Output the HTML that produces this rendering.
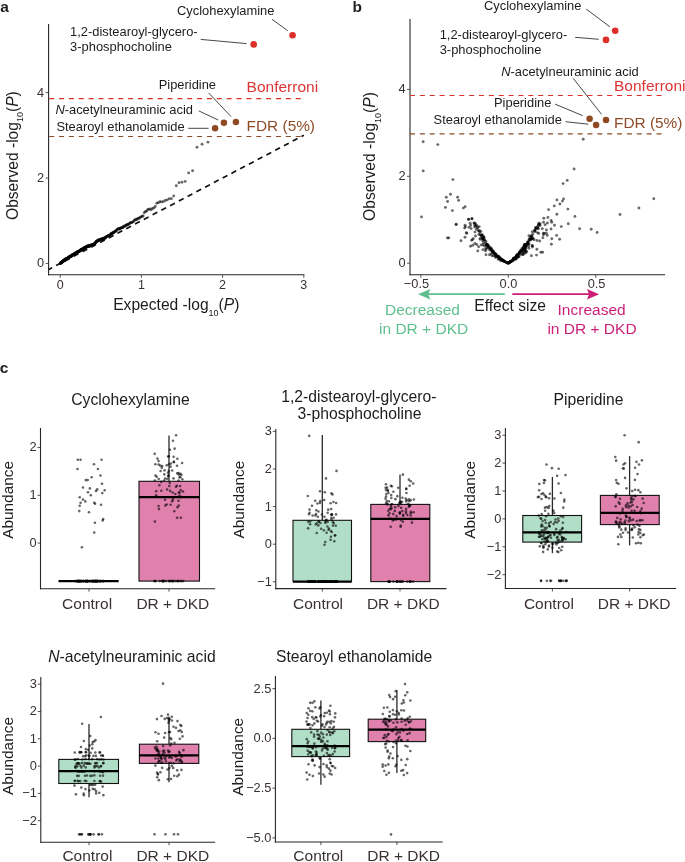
<!DOCTYPE html>
<html><head><meta charset="utf-8"><title>Figure</title>
<style>
html,body{margin:0;padding:0;background:#fff;}
svg{display:block;will-change:transform;}
text{font-family:"Liberation Sans",sans-serif;}
</style></head>
<body>
<svg width="685" height="862" viewBox="0 0 685 862">
<rect width="685" height="862" fill="#fff"/>
<text x="0.2" y="12.4" font-size="15.5" fill="#231f20" text-anchor="start" font-weight="bold">a</text>
<line x1="48.6" y1="24" x2="48.6" y2="275.3" stroke="#262626" stroke-width="1.1" stroke-linecap="butt"/>
<line x1="48.05" y1="274.7" x2="304.4" y2="274.7" stroke="#262626" stroke-width="1.1" stroke-linecap="butt"/>
<line x1="45.6" y1="263.4" x2="48.6" y2="263.4" stroke="#555" stroke-width="1" stroke-linecap="butt"/>
<text x="44.2" y="267.3" font-size="12.8" fill="#3a3131" text-anchor="end" >0</text>
<line x1="45.6" y1="178" x2="48.6" y2="178" stroke="#555" stroke-width="1" stroke-linecap="butt"/>
<text x="44.2" y="181.9" font-size="12.8" fill="#3a3131" text-anchor="end" >2</text>
<line x1="45.6" y1="92.6" x2="48.6" y2="92.6" stroke="#555" stroke-width="1" stroke-linecap="butt"/>
<text x="44.2" y="96.5" font-size="12.8" fill="#3a3131" text-anchor="end" >4</text>
<line x1="60.2" y1="274.7" x2="60.2" y2="277.8" stroke="#555" stroke-width="1" stroke-linecap="butt"/>
<text x="60.2" y="289.4" font-size="12.5" fill="#3a3131" text-anchor="middle" >0</text>
<line x1="141.4" y1="274.7" x2="141.4" y2="277.8" stroke="#555" stroke-width="1" stroke-linecap="butt"/>
<text x="141.4" y="289.4" font-size="12.5" fill="#3a3131" text-anchor="middle" >1</text>
<line x1="222.6" y1="274.7" x2="222.6" y2="277.8" stroke="#555" stroke-width="1" stroke-linecap="butt"/>
<text x="222.6" y="289.4" font-size="12.5" fill="#3a3131" text-anchor="middle" >2</text>
<line x1="303.8" y1="274.7" x2="303.8" y2="277.8" stroke="#555" stroke-width="1" stroke-linecap="butt"/>
<text x="303.8" y="289.4" font-size="12.5" fill="#3a3131" text-anchor="middle" >3</text>
<text x="176.3" y="310.3" font-size="15.6" fill="#1c1c1c" text-anchor="middle" >Expected -log<tspan font-size="9" dy="5.2">10</tspan><tspan dy="-5.2">(</tspan><tspan font-style="italic">P</tspan>)</text>
<text transform="translate(17.9,155.6) rotate(-90)" font-size="15.6" fill="#1c1c1c" text-anchor="middle">Observed -log<tspan font-size="9" dy="5.2">10</tspan><tspan dy="-5.2">(</tspan><tspan font-style="italic">P</tspan>)</text>
<line x1="49.2" y1="98.6" x2="301.5" y2="98.6" stroke="#dc2f2a" stroke-width="1.2" stroke-linecap="butt" stroke-dasharray="5 4.86"/>
<line x1="49.2" y1="136.5" x2="302" y2="136.5" stroke="#8e4b27" stroke-width="1.2" stroke-linecap="butt" stroke-dasharray="5 4.86"/>
<line x1="303.8" y1="135.3" x2="48.6" y2="269.55" stroke="#111" stroke-width="1.7" stroke-linecap="butt" stroke-dasharray="5.4 4.5" stroke-dashoffset="2.8"/>
<g fill="#000" fill-opacity="0.58"><circle cx="207.95" cy="142.13" r="1.45"/><circle cx="202.06" cy="144.27" r="1.45"/><circle cx="197.01" cy="147.26" r="1.45"/><circle cx="192.6" cy="170.74" r="1.45"/><circle cx="188.67" cy="172.88" r="1.45"/><circle cx="185.14" cy="181.42" r="1.45"/><circle cx="181.94" cy="182.27" r="1.45"/><circle cx="179" cy="182.7" r="1.45"/><circle cx="176.28" cy="185.69" r="1.45"/><circle cx="173.76" cy="195.93" r="1.45"/><circle cx="171.41" cy="198.65" r="1.45"/><circle cx="169.2" cy="198.82" r="1.45"/><circle cx="167.13" cy="199.91" r="1.45"/><circle cx="165.17" cy="200.54" r="1.45"/><circle cx="163.31" cy="201.62" r="1.45"/><circle cx="161.55" cy="201.89" r="1.45"/><circle cx="159.87" cy="201.76" r="1.45"/><circle cx="158.27" cy="202.8" r="1.45"/><circle cx="156.73" cy="203.21" r="1.45"/><circle cx="155.26" cy="206.52" r="1.45"/><circle cx="153.85" cy="207.9" r="1.45"/><circle cx="152.5" cy="208.43" r="1.45"/><circle cx="151.19" cy="209.84" r="1.45"/><circle cx="149.93" cy="208.83" r="1.45"/><circle cx="148.71" cy="209.39" r="1.45"/><circle cx="147.54" cy="209.75" r="1.45"/><circle cx="146.4" cy="211.26" r="1.45"/><circle cx="145.3" cy="211.61" r="1.45"/><circle cx="144.23" cy="212.8" r="1.45"/><circle cx="143.19" cy="215.99" r="1.45"/><circle cx="142.19" cy="216.16" r="1.45"/><circle cx="141.21" cy="216.91" r="1.45"/><circle cx="140.25" cy="217.16" r="1.45"/><circle cx="139.33" cy="218.28" r="1.45"/><circle cx="138.42" cy="218.32" r="1.45"/><circle cx="137.54" cy="218.78" r="1.45"/><circle cx="136.68" cy="219.8" r="1.45"/><circle cx="135.84" cy="219.11" r="1.45"/><circle cx="135.02" cy="220.15" r="1.45"/><circle cx="134.22" cy="220.3" r="1.45"/><circle cx="133.43" cy="221.62" r="1.45"/><circle cx="132.67" cy="222.11" r="1.45"/><circle cx="131.92" cy="222.35" r="1.45"/><circle cx="131.18" cy="222.63" r="1.45"/><circle cx="130.46" cy="222.66" r="1.45"/><circle cx="129.76" cy="223.22" r="1.45"/><circle cx="129.07" cy="223.91" r="1.45"/><circle cx="128.39" cy="224.5" r="1.45"/><circle cx="127.72" cy="224.65" r="1.45"/><circle cx="127.07" cy="224.21" r="1.45"/><circle cx="126.43" cy="225.47" r="1.45"/><circle cx="125.8" cy="225.33" r="1.45"/><circle cx="125.18" cy="225.58" r="1.45"/><circle cx="124.57" cy="226.75" r="1.45"/><circle cx="123.97" cy="226.38" r="1.45"/><circle cx="123.39" cy="226.13" r="1.45"/><circle cx="122.81" cy="227.86" r="1.45"/><circle cx="122.24" cy="227.42" r="1.45"/><circle cx="121.68" cy="227.61" r="1.45"/><circle cx="121.13" cy="228.19" r="1.45"/><circle cx="120.59" cy="227.91" r="1.45"/><circle cx="120.05" cy="228.42" r="1.45"/><circle cx="119.52" cy="229.27" r="1.45"/><circle cx="119.01" cy="228.57" r="1.45"/><circle cx="118.5" cy="228.9" r="1.45"/><circle cx="117.99" cy="229.04" r="1.45"/><circle cx="117.49" cy="229.09" r="1.45"/><circle cx="117" cy="229.83" r="1.45"/><circle cx="116.52" cy="230.26" r="1.45"/><circle cx="116.05" cy="231.16" r="1.45"/><circle cx="115.58" cy="230.7" r="1.45"/><circle cx="115.11" cy="231.5" r="1.45"/><circle cx="114.65" cy="231.75" r="1.45"/><circle cx="114.2" cy="232.37" r="1.45"/><circle cx="113.75" cy="232.55" r="1.45"/><circle cx="113.31" cy="232.68" r="1.45"/><circle cx="112.88" cy="232.25" r="1.45"/><circle cx="112.45" cy="233.84" r="1.45"/><circle cx="112.02" cy="233.9" r="1.45"/><circle cx="111.6" cy="233.53" r="1.45"/><circle cx="111.19" cy="233.34" r="1.45"/><circle cx="110.78" cy="233.95" r="1.45"/><circle cx="110.37" cy="235.16" r="1.45"/><circle cx="109.97" cy="235.66" r="1.45"/><circle cx="109.58" cy="234.83" r="1.45"/><circle cx="109.18" cy="235.51" r="1.45"/><circle cx="108.8" cy="235.91" r="1.45"/><circle cx="108.41" cy="235.38" r="1.45"/><circle cx="108.03" cy="235.58" r="1.45"/><circle cx="107.66" cy="236.18" r="1.45"/><circle cx="107.29" cy="236.4" r="1.45"/><circle cx="106.92" cy="236.57" r="1.45"/><circle cx="106.56" cy="236.39" r="1.45"/><circle cx="106.2" cy="236.99" r="1.45"/><circle cx="105.84" cy="237.26" r="1.45"/><circle cx="105.49" cy="237.49" r="1.45"/><circle cx="105.14" cy="238.48" r="1.45"/><circle cx="104.79" cy="237.62" r="1.45"/><circle cx="104.45" cy="237.86" r="1.45"/><circle cx="104.11" cy="238.14" r="1.45"/><circle cx="103.78" cy="239.15" r="1.45"/><circle cx="103.44" cy="238.8" r="1.45"/><circle cx="103.11" cy="238.4" r="1.45"/><circle cx="102.79" cy="239.45" r="1.45"/><circle cx="102.46" cy="239" r="1.45"/><circle cx="102.14" cy="238.7" r="1.45"/><circle cx="101.83" cy="239.62" r="1.45"/><circle cx="101.51" cy="238.73" r="1.45"/><circle cx="101.2" cy="239.21" r="1.45"/><circle cx="100.89" cy="239.57" r="1.45"/><circle cx="100.58" cy="239.52" r="1.45"/><circle cx="100.28" cy="239.52" r="1.45"/><circle cx="99.98" cy="239.81" r="1.45"/><circle cx="99.68" cy="239.57" r="1.45"/><circle cx="99.38" cy="240.29" r="1.45"/><circle cx="99.09" cy="240.32" r="1.45"/><circle cx="98.8" cy="239.94" r="1.45"/><circle cx="98.51" cy="240.38" r="1.45"/><circle cx="98.22" cy="240.79" r="1.45"/><circle cx="97.94" cy="240.29" r="1.45"/><circle cx="97.65" cy="240.22" r="1.45"/><circle cx="97.37" cy="240.95" r="1.45"/><circle cx="97.1" cy="241.36" r="1.45"/><circle cx="96.82" cy="241.12" r="1.45"/><circle cx="96.55" cy="241.45" r="1.45"/><circle cx="96.28" cy="241.81" r="1.45"/><circle cx="96.01" cy="241.58" r="1.45"/><circle cx="95.74" cy="242.68" r="1.45"/><circle cx="95.48" cy="242.26" r="1.45"/><circle cx="95.21" cy="243.37" r="1.45"/><circle cx="94.95" cy="243.53" r="1.45"/><circle cx="94.69" cy="243.38" r="1.45"/><circle cx="94.43" cy="243.53" r="1.45"/><circle cx="94.18" cy="243.92" r="1.45"/><circle cx="93.92" cy="244.38" r="1.45"/><circle cx="93.67" cy="244.61" r="1.45"/><circle cx="93.42" cy="244.68" r="1.45"/><circle cx="93.17" cy="244.62" r="1.45"/><circle cx="92.93" cy="244.92" r="1.45"/><circle cx="92.68" cy="244.85" r="1.45"/><circle cx="92.44" cy="244.84" r="1.45"/><circle cx="92.2" cy="245.08" r="1.45"/><circle cx="91.96" cy="244.92" r="1.45"/><circle cx="91.72" cy="245.05" r="1.45"/><circle cx="91.48" cy="244.68" r="1.45"/><circle cx="91.25" cy="245.26" r="1.45"/><circle cx="91.01" cy="245.55" r="1.45"/><circle cx="90.78" cy="245.6" r="1.45"/><circle cx="90.55" cy="245.56" r="1.45"/><circle cx="90.32" cy="245.35" r="1.45"/><circle cx="90.1" cy="245.79" r="1.45"/><circle cx="89.87" cy="245.64" r="1.45"/><circle cx="89.65" cy="245.28" r="1.45"/><circle cx="89.42" cy="246.64" r="1.45"/><circle cx="89.2" cy="246.28" r="1.45"/><circle cx="88.98" cy="245.94" r="1.45"/><circle cx="88.76" cy="245.96" r="1.45"/><circle cx="88.54" cy="246.07" r="1.45"/><circle cx="88.33" cy="246.33" r="1.45"/><circle cx="88.11" cy="246.07" r="1.45"/><circle cx="87.9" cy="246.24" r="1.45"/><circle cx="87.69" cy="246.54" r="1.45"/><circle cx="87.47" cy="245.75" r="1.45"/><circle cx="87.26" cy="246.41" r="1.45"/><circle cx="87.06" cy="246.73" r="1.45"/><circle cx="86.85" cy="246.66" r="1.45"/><circle cx="86.64" cy="246.75" r="1.45"/><circle cx="86.44" cy="246.81" r="1.45"/><circle cx="86.23" cy="247.68" r="1.45"/><circle cx="86.03" cy="247.18" r="1.45"/><circle cx="85.83" cy="246.88" r="1.45"/><circle cx="85.63" cy="247.61" r="1.45"/><circle cx="85.43" cy="247.42" r="1.45"/><circle cx="85.23" cy="247.26" r="1.45"/><circle cx="85.03" cy="247.4" r="1.45"/><circle cx="84.84" cy="247.35" r="1.45"/><circle cx="84.64" cy="248.34" r="1.45"/><circle cx="84.45" cy="248.09" r="1.45"/><circle cx="84.26" cy="248.2" r="1.45"/><circle cx="84.07" cy="248.05" r="1.45"/><circle cx="83.87" cy="248.04" r="1.45"/><circle cx="83.69" cy="249.18" r="1.45"/><circle cx="83.5" cy="248.27" r="1.45"/><circle cx="83.31" cy="249.07" r="1.45"/><circle cx="83.12" cy="248.61" r="1.45"/><circle cx="82.94" cy="249.3" r="1.45"/><circle cx="82.75" cy="248.97" r="1.45"/><circle cx="82.57" cy="248.81" r="1.45"/><circle cx="82.39" cy="249.27" r="1.45"/><circle cx="82.2" cy="249.29" r="1.45"/><circle cx="82.02" cy="249.24" r="1.45"/><circle cx="81.84" cy="249.52" r="1.45"/><circle cx="81.66" cy="249.69" r="1.45"/><circle cx="81.49" cy="249.38" r="1.45"/><circle cx="81.31" cy="249.61" r="1.45"/><circle cx="81.13" cy="250.06" r="1.45"/><circle cx="80.96" cy="249.38" r="1.45"/><circle cx="80.78" cy="250.49" r="1.45"/><circle cx="80.61" cy="250.07" r="1.45"/><circle cx="80.44" cy="250.47" r="1.45"/><circle cx="80.26" cy="250.48" r="1.45"/><circle cx="80.09" cy="250.43" r="1.45"/><circle cx="79.92" cy="250.66" r="1.45"/><circle cx="79.75" cy="250.66" r="1.45"/><circle cx="79.58" cy="251.3" r="1.45"/><circle cx="79.42" cy="251.4" r="1.45"/><circle cx="79.25" cy="250.97" r="1.45"/><circle cx="79.08" cy="251.46" r="1.45"/><circle cx="78.92" cy="251.58" r="1.45"/><circle cx="78.75" cy="251.79" r="1.45"/><circle cx="78.59" cy="251.2" r="1.45"/><circle cx="78.43" cy="251.43" r="1.45"/><circle cx="78.26" cy="251.35" r="1.45"/><circle cx="78.1" cy="252.04" r="1.45"/><circle cx="77.94" cy="251.91" r="1.45"/><circle cx="77.78" cy="252.28" r="1.45"/><circle cx="77.62" cy="251.91" r="1.45"/><circle cx="77.46" cy="251.81" r="1.45"/><circle cx="77.3" cy="252.51" r="1.45"/><circle cx="77.15" cy="252.01" r="1.45"/><circle cx="76.99" cy="252.24" r="1.45"/><circle cx="76.83" cy="252.62" r="1.45"/><circle cx="76.68" cy="253.14" r="1.45"/><circle cx="76.52" cy="252.42" r="1.45"/><circle cx="76.37" cy="252.88" r="1.45"/><circle cx="76.22" cy="253.09" r="1.45"/><circle cx="76.06" cy="252.94" r="1.45"/><circle cx="75.91" cy="253.03" r="1.45"/><circle cx="75.76" cy="252.86" r="1.45"/><circle cx="75.61" cy="253.55" r="1.45"/><circle cx="75.46" cy="253.13" r="1.45"/><circle cx="75.31" cy="253.14" r="1.45"/><circle cx="75.16" cy="253.23" r="1.45"/><circle cx="75.01" cy="253.7" r="1.45"/><circle cx="74.86" cy="253.92" r="1.45"/><circle cx="74.72" cy="253.6" r="1.45"/><circle cx="74.57" cy="253.9" r="1.45"/><circle cx="74.43" cy="253.98" r="1.45"/><circle cx="74.28" cy="253.77" r="1.45"/><circle cx="74.14" cy="254.25" r="1.45"/><circle cx="73.99" cy="254.8" r="1.45"/><circle cx="73.85" cy="254.45" r="1.45"/><circle cx="73.71" cy="254.86" r="1.45"/><circle cx="73.56" cy="254.34" r="1.45"/><circle cx="73.42" cy="254.54" r="1.45"/><circle cx="73.28" cy="254.83" r="1.45"/><circle cx="73.14" cy="254.78" r="1.45"/><circle cx="73" cy="254.68" r="1.45"/><circle cx="72.86" cy="254.93" r="1.45"/><circle cx="72.72" cy="254.73" r="1.45"/><circle cx="72.58" cy="255.13" r="1.45"/><circle cx="72.45" cy="254.96" r="1.45"/><circle cx="72.31" cy="254.94" r="1.45"/><circle cx="72.17" cy="255" r="1.45"/><circle cx="72.04" cy="255.59" r="1.45"/><circle cx="71.9" cy="255.33" r="1.45"/><circle cx="71.77" cy="256.01" r="1.45"/><circle cx="71.63" cy="255.92" r="1.45"/><circle cx="71.5" cy="256.19" r="1.45"/><circle cx="71.36" cy="255.61" r="1.45"/><circle cx="71.23" cy="256.19" r="1.45"/><circle cx="71.1" cy="256" r="1.45"/><circle cx="70.97" cy="256.12" r="1.45"/><circle cx="70.83" cy="256.16" r="1.45"/><circle cx="70.7" cy="256.36" r="1.45"/><circle cx="70.57" cy="256.26" r="1.45"/><circle cx="70.44" cy="256.01" r="1.45"/><circle cx="70.31" cy="256.46" r="1.45"/><circle cx="70.18" cy="256.43" r="1.45"/><circle cx="70.05" cy="256.41" r="1.45"/><circle cx="69.93" cy="256.74" r="1.45"/><circle cx="69.8" cy="257.04" r="1.45"/><circle cx="69.67" cy="256.97" r="1.45"/><circle cx="69.54" cy="256.7" r="1.45"/><circle cx="69.42" cy="257.35" r="1.45"/><circle cx="69.29" cy="257.2" r="1.45"/><circle cx="69.17" cy="256.94" r="1.45"/><circle cx="69.04" cy="257.06" r="1.45"/><circle cx="68.92" cy="257.3" r="1.45"/><circle cx="68.79" cy="257.21" r="1.45"/><circle cx="68.67" cy="257.41" r="1.45"/><circle cx="68.55" cy="257.76" r="1.45"/><circle cx="68.42" cy="257.92" r="1.45"/><circle cx="68.3" cy="257.8" r="1.45"/><circle cx="68.18" cy="257.55" r="1.45"/><circle cx="68.06" cy="257.93" r="1.45"/><circle cx="67.94" cy="258.07" r="1.45"/><circle cx="67.81" cy="258.11" r="1.45"/><circle cx="67.69" cy="258.34" r="1.45"/><circle cx="67.57" cy="258.12" r="1.45"/><circle cx="67.46" cy="258.41" r="1.45"/><circle cx="67.34" cy="258.17" r="1.45"/><circle cx="67.22" cy="258.79" r="1.45"/><circle cx="67.1" cy="258.32" r="1.45"/><circle cx="66.98" cy="258.58" r="1.45"/><circle cx="66.86" cy="258.91" r="1.45"/><circle cx="66.75" cy="258.45" r="1.45"/><circle cx="66.63" cy="258.72" r="1.45"/><circle cx="66.51" cy="259.17" r="1.45"/><circle cx="66.4" cy="258.98" r="1.45"/><circle cx="66.28" cy="258.82" r="1.45"/><circle cx="66.17" cy="259.04" r="1.45"/><circle cx="66.05" cy="258.88" r="1.45"/><circle cx="65.94" cy="258.97" r="1.45"/><circle cx="65.82" cy="259.07" r="1.45"/><circle cx="65.71" cy="259.23" r="1.45"/><circle cx="65.6" cy="259.12" r="1.45"/><circle cx="65.48" cy="259.33" r="1.45"/><circle cx="65.37" cy="259.46" r="1.45"/><circle cx="65.26" cy="260.03" r="1.45"/><circle cx="65.15" cy="259.54" r="1.45"/><circle cx="65.03" cy="259.54" r="1.45"/><circle cx="64.92" cy="259.93" r="1.45"/><circle cx="64.81" cy="260.05" r="1.45"/><circle cx="64.7" cy="259.67" r="1.45"/><circle cx="64.59" cy="260.46" r="1.45"/><circle cx="64.48" cy="260.12" r="1.45"/><circle cx="64.37" cy="259.83" r="1.45"/><circle cx="64.26" cy="260.54" r="1.45"/><circle cx="64.15" cy="260.32" r="1.45"/><circle cx="64.05" cy="260.18" r="1.45"/><circle cx="63.94" cy="260.63" r="1.45"/><circle cx="63.83" cy="260.59" r="1.45"/><circle cx="63.72" cy="260.6" r="1.45"/><circle cx="63.61" cy="261.02" r="1.45"/><circle cx="63.51" cy="260.95" r="1.45"/><circle cx="63.4" cy="260.96" r="1.45"/><circle cx="63.29" cy="260.94" r="1.45"/><circle cx="63.19" cy="261.18" r="1.45"/><circle cx="63.08" cy="261.28" r="1.45"/><circle cx="62.98" cy="261.51" r="1.45"/><circle cx="62.87" cy="261.47" r="1.45"/><circle cx="62.77" cy="261.32" r="1.45"/><circle cx="62.66" cy="261.54" r="1.45"/><circle cx="62.56" cy="261.79" r="1.45"/><circle cx="62.46" cy="261.87" r="1.45"/><circle cx="62.35" cy="261.31" r="1.45"/><circle cx="62.25" cy="261.67" r="1.45"/><circle cx="62.15" cy="261.83" r="1.45"/><circle cx="62.04" cy="262.49" r="1.45"/><circle cx="61.94" cy="261.99" r="1.45"/><circle cx="61.84" cy="262.09" r="1.45"/><circle cx="61.74" cy="261.95" r="1.45"/><circle cx="61.64" cy="262.25" r="1.45"/><circle cx="61.54" cy="262.41" r="1.45"/><circle cx="61.44" cy="262.39" r="1.45"/><circle cx="61.34" cy="262.89" r="1.45"/><circle cx="61.24" cy="262.45" r="1.45"/><circle cx="61.14" cy="262.65" r="1.45"/><circle cx="61.04" cy="262.9" r="1.45"/><circle cx="60.94" cy="262.62" r="1.45"/><circle cx="60.84" cy="262.61" r="1.45"/><circle cx="60.74" cy="263.24" r="1.45"/><circle cx="60.64" cy="263.19" r="1.45"/><circle cx="60.54" cy="263.09" r="1.45"/><circle cx="60.44" cy="263.19" r="1.45"/><circle cx="60.35" cy="263.36" r="1.45"/><circle cx="60.25" cy="263.53" r="1.45"/></g>
<circle cx="292.55" cy="35.3" r="3.3" fill="#dc2f2a"/>
<circle cx="253.7" cy="44.4" r="3.3" fill="#dc2f2a"/>
<circle cx="235.9" cy="121.9" r="3.25" fill="#8f4a24"/>
<circle cx="223.9" cy="122.8" r="3.25" fill="#8f4a24"/>
<circle cx="215.1" cy="128.3" r="3.25" fill="#8f4a24"/>
<line x1="272" y1="19.3" x2="287.7" y2="30.7" stroke="#333" stroke-width="0.9" stroke-linecap="butt"/>
<line x1="200.7" y1="39.4" x2="246.5" y2="43.6" stroke="#333" stroke-width="0.9" stroke-linecap="butt"/>
<line x1="208.6" y1="92.9" x2="231.1" y2="116.6" stroke="#333" stroke-width="0.9" stroke-linecap="butt"/>
<line x1="198.8" y1="110.9" x2="218.2" y2="120" stroke="#333" stroke-width="0.9" stroke-linecap="butt"/>
<line x1="188.2" y1="128.3" x2="208.6" y2="128.3" stroke="#333" stroke-width="0.9" stroke-linecap="butt"/>
<text x="177" y="15.3" font-size="12.9" fill="#1c1c1c" text-anchor="start" >Cyclohexylamine</text>
<text x="70.1" y="36.4" font-size="12.9" fill="#1c1c1c" text-anchor="start" >1,2-distearoyl-glycero-</text>
<text x="70.1" y="50.6" font-size="12.9" fill="#1c1c1c" text-anchor="start" >3-phosphocholine</text>
<text x="158.7" y="89.2" font-size="12.9" fill="#1c1c1c" text-anchor="start" >Piperidine</text>
<text x="55.4" y="114.4" font-size="12.9" fill="#1c1c1c" text-anchor="start" ><tspan font-style="italic">N</tspan>-acetylneuraminic acid</text>
<text x="56.4" y="131.2" font-size="12.9" fill="#1c1c1c" text-anchor="start" >Stearoyl ethanolamide</text>
<text x="246.6" y="92.4" font-size="15.5" fill="#dc3434" text-anchor="start" >Bonferroni</text>
<text x="246.6" y="130.6" font-size="15.4" fill="#8e4b27" text-anchor="start" >FDR (5%)</text>
<text x="352.6" y="11.9" font-size="15.5" fill="#231f20" text-anchor="start" font-weight="bold">b</text>
<line x1="410" y1="19" x2="410" y2="275.3" stroke="#262626" stroke-width="1.1" stroke-linecap="butt"/>
<line x1="409.45" y1="274.7" x2="665" y2="274.7" stroke="#262626" stroke-width="1.1" stroke-linecap="butt"/>
<line x1="407" y1="263.2" x2="410" y2="263.2" stroke="#555" stroke-width="1" stroke-linecap="butt"/>
<text x="405.6" y="267.1" font-size="12.8" fill="#3a3131" text-anchor="end" >0</text>
<line x1="407" y1="176.3" x2="410" y2="176.3" stroke="#555" stroke-width="1" stroke-linecap="butt"/>
<text x="405.6" y="180.2" font-size="12.8" fill="#3a3131" text-anchor="end" >2</text>
<line x1="407" y1="89.4" x2="410" y2="89.4" stroke="#555" stroke-width="1" stroke-linecap="butt"/>
<text x="405.6" y="93.3" font-size="12.8" fill="#3a3131" text-anchor="end" >4</text>
<line x1="420.8" y1="274.7" x2="420.8" y2="277.8" stroke="#555" stroke-width="1" stroke-linecap="butt"/>
<text x="416.5" y="288.2" font-size="12.8" fill="#3a3131" text-anchor="middle" >−0.5</text>
<line x1="508.3" y1="274.7" x2="508.3" y2="277.8" stroke="#555" stroke-width="1" stroke-linecap="butt"/>
<text x="508.5" y="288.2" font-size="12.8" fill="#3a3131" text-anchor="middle" >0.0</text>
<line x1="595.8" y1="274.7" x2="595.8" y2="277.8" stroke="#555" stroke-width="1" stroke-linecap="butt"/>
<text x="596.6" y="288.2" font-size="12.8" fill="#3a3131" text-anchor="middle" >0.5</text>
<text transform="translate(375.4,156.5) rotate(-90)" font-size="15.6" fill="#1c1c1c" text-anchor="middle">Observed -log<tspan font-size="9" dy="5.2">10</tspan><tspan dy="-5.2">(</tspan><tspan font-style="italic">P</tspan>)</text>
<text x="510.1" y="310.8" font-size="15.6" fill="#1c1c1c" text-anchor="middle" >Effect size</text>
<line x1="504.8" y1="294.2" x2="426" y2="294.2" stroke="#5ebf8f" stroke-width="1.8" stroke-linecap="butt"/>
<path d="M418.1 294.2 L430.4 289 L428.2 294.2 L430.4 299.4 Z" fill="#5ebf8f"/>
<line x1="512.3" y1="294.2" x2="590" y2="294.2" stroke="#cc1f77" stroke-width="1.8" stroke-linecap="butt"/>
<path d="M599.2 294.2 L586.9 289 L589.1 294.2 L586.9 299.4 Z" fill="#cc1f77"/>
<text x="422.5" y="315.2" font-size="15.5" fill="#5ebf8f" text-anchor="middle" >Decreased</text>
<text x="423.6" y="333.8" font-size="15.5" fill="#5ebf8f" text-anchor="middle" >in DR + DKD</text>
<text x="591.6" y="315.1" font-size="15.5" fill="#cc1f77" text-anchor="middle" >Increased</text>
<text x="592" y="333.8" font-size="15.5" fill="#cc1f77" text-anchor="middle" >in DR + DKD</text>
<line x1="410" y1="95.5" x2="662" y2="95.5" stroke="#dc2f2a" stroke-width="1.2" stroke-linecap="butt" stroke-dasharray="5 4.86"/>
<line x1="410" y1="133.8" x2="662" y2="133.8" stroke="#8e4b27" stroke-width="1.2" stroke-linecap="butt" stroke-dasharray="5 4.86"/>
<g fill="#000" fill-opacity="0.58"><circle cx="423.2" cy="141.7" r="1.45"/><circle cx="437.8" cy="144.6" r="1.45"/><circle cx="583.2" cy="139.3" r="1.45"/><circle cx="423.2" cy="170.9" r="1.45"/><circle cx="574.1" cy="169" r="1.45"/><circle cx="452.9" cy="179.6" r="1.45"/><circle cx="567.2" cy="180.4" r="1.45"/><circle cx="563.1" cy="183.6" r="1.45"/><circle cx="450.5" cy="194.2" r="1.45"/><circle cx="446.3" cy="197.2" r="1.45"/><circle cx="457.6" cy="197.2" r="1.45"/><circle cx="447.6" cy="201.5" r="1.45"/><circle cx="458.6" cy="200.4" r="1.45"/><circle cx="445.4" cy="207.4" r="1.45"/><circle cx="452.4" cy="210.6" r="1.45"/><circle cx="463.4" cy="208.1" r="1.45"/><circle cx="465.1" cy="206.6" r="1.45"/><circle cx="421.5" cy="216.9" r="1.45"/><circle cx="456.1" cy="224.6" r="1.45"/><circle cx="468.5" cy="219.3" r="1.45"/><circle cx="471.9" cy="218.8" r="1.45"/><circle cx="563.5" cy="198.9" r="1.45"/><circle cx="562.5" cy="201.1" r="1.45"/><circle cx="556.9" cy="199.9" r="1.45"/><circle cx="559.9" cy="204" r="1.45"/><circle cx="554.3" cy="205.9" r="1.45"/><circle cx="548.6" cy="209.6" r="1.45"/><circle cx="567.9" cy="209.1" r="1.45"/><circle cx="556.9" cy="214.2" r="1.45"/><circle cx="574.9" cy="216.4" r="1.45"/><circle cx="547.9" cy="217.4" r="1.45"/><circle cx="543.8" cy="218.3" r="1.45"/><circle cx="551.1" cy="220.5" r="1.45"/><circle cx="543.5" cy="222.3" r="1.45"/><circle cx="547.4" cy="223" r="1.45"/><circle cx="554.5" cy="225.2" r="1.45"/><circle cx="561.3" cy="226.6" r="1.45"/><circle cx="568.3" cy="223.7" r="1.45"/><circle cx="579.6" cy="228.8" r="1.45"/><circle cx="591.2" cy="229.3" r="1.45"/><circle cx="597.1" cy="232.5" r="1.45"/><circle cx="540.1" cy="225.6" r="1.45"/><circle cx="538.2" cy="228.8" r="1.45"/><circle cx="542.3" cy="228.8" r="1.45"/><circle cx="546.4" cy="230" r="1.45"/><circle cx="538.7" cy="233.5" r="1.45"/><circle cx="544.2" cy="233.5" r="1.45"/><circle cx="547.2" cy="235.4" r="1.45"/><circle cx="556.6" cy="235.4" r="1.45"/><circle cx="551.8" cy="238.8" r="1.45"/><circle cx="559.6" cy="239.3" r="1.45"/><circle cx="551.4" cy="244.2" r="1.45"/><circle cx="536.9" cy="249.3" r="1.45"/><circle cx="540.9" cy="252.2" r="1.45"/><circle cx="542.6" cy="252.2" r="1.45"/><circle cx="531.4" cy="255.8" r="1.45"/><circle cx="536.5" cy="255.1" r="1.45"/><circle cx="620" cy="214.5" r="1.45"/><circle cx="638.9" cy="208" r="1.45"/><circle cx="653.8" cy="198.7" r="1.45"/><circle cx="456.2" cy="224.2" r="1.45"/><circle cx="465" cy="225.3" r="1.45"/><circle cx="465.4" cy="226.8" r="1.45"/><circle cx="468.7" cy="219.4" r="1.45"/><circle cx="472" cy="218.8" r="1.45"/><circle cx="470.2" cy="223.3" r="1.45"/><circle cx="470.6" cy="225.5" r="1.45"/><circle cx="471.1" cy="228.6" r="1.45"/><circle cx="474.9" cy="223.3" r="1.45"/><circle cx="476.6" cy="225.3" r="1.45"/><circle cx="477.7" cy="228.1" r="1.45"/><circle cx="479.4" cy="230.8" r="1.45"/><circle cx="475" cy="232.1" r="1.45"/><circle cx="475.5" cy="236" r="1.45"/><circle cx="473.3" cy="238.6" r="1.45"/><circle cx="447.4" cy="237.9" r="1.45"/><circle cx="448.8" cy="237.9" r="1.45"/><circle cx="465" cy="237.3" r="1.45"/><circle cx="461" cy="240.8" r="1.45"/><circle cx="470.6" cy="246.3" r="1.45"/><circle cx="472.8" cy="245.2" r="1.45"/><circle cx="474.9" cy="243.5" r="1.45"/><circle cx="477.8" cy="250.9" r="1.45"/><circle cx="485.5" cy="250.9" r="1.45"/><circle cx="486" cy="254.8" r="1.45"/><circle cx="489.5" cy="254.8" r="1.45"/><circle cx="551.76" cy="222.31" r="1.45"/><circle cx="473.93" cy="223.01" r="1.45"/><circle cx="475.11" cy="223.62" r="1.45"/><circle cx="540.14" cy="223.77" r="1.45"/><circle cx="538.75" cy="223.32" r="1.45"/><circle cx="538.86" cy="224.6" r="1.45"/><circle cx="539.1" cy="224.46" r="1.45"/><circle cx="545.09" cy="224.71" r="1.45"/><circle cx="475.98" cy="225.9" r="1.45"/><circle cx="538.34" cy="225.53" r="1.45"/><circle cx="474.78" cy="225.27" r="1.45"/><circle cx="474.71" cy="227.04" r="1.45"/><circle cx="479.2" cy="226.59" r="1.45"/><circle cx="537.5" cy="226.78" r="1.45"/><circle cx="468.92" cy="227.37" r="1.45"/><circle cx="477.48" cy="227.08" r="1.45"/><circle cx="535.85" cy="227.6" r="1.45"/><circle cx="536.4" cy="228.47" r="1.45"/><circle cx="535.77" cy="227.76" r="1.45"/><circle cx="464.57" cy="228.1" r="1.45"/><circle cx="536.17" cy="228.24" r="1.45"/><circle cx="538.07" cy="228.29" r="1.45"/><circle cx="551.08" cy="229.04" r="1.45"/><circle cx="476.42" cy="229.48" r="1.45"/><circle cx="535.11" cy="230.39" r="1.45"/><circle cx="534.71" cy="229.92" r="1.45"/><circle cx="478.42" cy="230.74" r="1.45"/><circle cx="534.69" cy="230.99" r="1.45"/><circle cx="534.86" cy="231.63" r="1.45"/><circle cx="532.38" cy="231.81" r="1.45"/><circle cx="479.52" cy="231.94" r="1.45"/><circle cx="480.8" cy="231.51" r="1.45"/><circle cx="543.47" cy="233.12" r="1.45"/><circle cx="546.39" cy="233.18" r="1.45"/><circle cx="466.3" cy="232.8" r="1.45"/><circle cx="537.35" cy="232.61" r="1.45"/><circle cx="466.77" cy="233.23" r="1.45"/><circle cx="478.9" cy="234.47" r="1.45"/><circle cx="482.14" cy="234.98" r="1.45"/><circle cx="532.76" cy="234.13" r="1.45"/><circle cx="480.25" cy="234.82" r="1.45"/><circle cx="481.66" cy="235.22" r="1.45"/><circle cx="543.37" cy="234.68" r="1.45"/><circle cx="482.24" cy="234.89" r="1.45"/><circle cx="481.25" cy="235.51" r="1.45"/><circle cx="531.24" cy="235.72" r="1.45"/><circle cx="481.63" cy="235.9" r="1.45"/><circle cx="528.91" cy="235.72" r="1.45"/><circle cx="531.94" cy="236.32" r="1.45"/><circle cx="483.65" cy="236.6" r="1.45"/><circle cx="531.41" cy="236.83" r="1.45"/><circle cx="483.69" cy="237.84" r="1.45"/><circle cx="530.53" cy="236.97" r="1.45"/><circle cx="483.97" cy="237.21" r="1.45"/><circle cx="483.01" cy="237.5" r="1.45"/><circle cx="482.89" cy="238.53" r="1.45"/><circle cx="480.55" cy="238.17" r="1.45"/><circle cx="542.92" cy="237.76" r="1.45"/><circle cx="530.82" cy="238.83" r="1.45"/><circle cx="533.05" cy="238.37" r="1.45"/><circle cx="531.23" cy="238.07" r="1.45"/><circle cx="483.53" cy="239.01" r="1.45"/><circle cx="482.44" cy="238.1" r="1.45"/><circle cx="532.65" cy="238.59" r="1.45"/><circle cx="529.2" cy="238.95" r="1.45"/><circle cx="530.4" cy="238.9" r="1.45"/><circle cx="531.88" cy="238.9" r="1.45"/><circle cx="480.06" cy="239.2" r="1.45"/><circle cx="482.46" cy="238.96" r="1.45"/><circle cx="529.08" cy="239.69" r="1.45"/><circle cx="484.62" cy="239.71" r="1.45"/><circle cx="530.71" cy="239.33" r="1.45"/><circle cx="534.08" cy="239.78" r="1.45"/><circle cx="484.24" cy="240.19" r="1.45"/><circle cx="530.86" cy="239.68" r="1.45"/><circle cx="472.38" cy="239.62" r="1.45"/><circle cx="471.63" cy="240.36" r="1.45"/><circle cx="482.64" cy="240.77" r="1.45"/><circle cx="536.97" cy="240.53" r="1.45"/><circle cx="529.31" cy="240.86" r="1.45"/><circle cx="485.85" cy="241.24" r="1.45"/><circle cx="539.71" cy="241" r="1.45"/><circle cx="528.1" cy="242.11" r="1.45"/><circle cx="527.77" cy="241.69" r="1.45"/><circle cx="527.81" cy="242.82" r="1.45"/><circle cx="485.53" cy="242.98" r="1.45"/><circle cx="483.49" cy="242.83" r="1.45"/><circle cx="528.07" cy="242.98" r="1.45"/><circle cx="527.53" cy="243.37" r="1.45"/><circle cx="527.89" cy="243.84" r="1.45"/><circle cx="525.57" cy="244.08" r="1.45"/><circle cx="487.01" cy="244.15" r="1.45"/><circle cx="529.09" cy="244.09" r="1.45"/><circle cx="486.67" cy="244.4" r="1.45"/><circle cx="487.05" cy="244.33" r="1.45"/><circle cx="527.07" cy="244.31" r="1.45"/><circle cx="476.72" cy="244.56" r="1.45"/><circle cx="525.85" cy="244.39" r="1.45"/><circle cx="524.39" cy="244.52" r="1.45"/><circle cx="528.03" cy="244.15" r="1.45"/><circle cx="483.09" cy="244.74" r="1.45"/><circle cx="525.14" cy="245.04" r="1.45"/><circle cx="485.94" cy="245.09" r="1.45"/><circle cx="481.32" cy="245.05" r="1.45"/><circle cx="487.91" cy="244.83" r="1.45"/><circle cx="486.33" cy="245.28" r="1.45"/><circle cx="525.19" cy="245.13" r="1.45"/><circle cx="525.93" cy="244.76" r="1.45"/><circle cx="524.66" cy="246.14" r="1.45"/><circle cx="487.77" cy="245.78" r="1.45"/><circle cx="526.73" cy="245.43" r="1.45"/><circle cx="532.17" cy="245.45" r="1.45"/><circle cx="487.77" cy="245.57" r="1.45"/><circle cx="487.28" cy="245.83" r="1.45"/><circle cx="524.18" cy="245.57" r="1.45"/><circle cx="525.36" cy="245.74" r="1.45"/><circle cx="484.45" cy="246.04" r="1.45"/><circle cx="524.55" cy="245.24" r="1.45"/><circle cx="532.45" cy="245.91" r="1.45"/><circle cx="487.62" cy="246.23" r="1.45"/><circle cx="487.98" cy="246.16" r="1.45"/><circle cx="528.6" cy="246.26" r="1.45"/><circle cx="489.06" cy="246.32" r="1.45"/><circle cx="523.21" cy="247.21" r="1.45"/><circle cx="487.97" cy="246.69" r="1.45"/><circle cx="525.31" cy="246.39" r="1.45"/><circle cx="524.22" cy="247.13" r="1.45"/><circle cx="532.44" cy="246.94" r="1.45"/><circle cx="478.64" cy="246.77" r="1.45"/><circle cx="525.68" cy="246.92" r="1.45"/><circle cx="523.97" cy="246.87" r="1.45"/><circle cx="523.49" cy="247.88" r="1.45"/><circle cx="524.33" cy="247.62" r="1.45"/><circle cx="525.98" cy="247.73" r="1.45"/><circle cx="490.48" cy="247.58" r="1.45"/><circle cx="488" cy="247.57" r="1.45"/><circle cx="521.9" cy="248.73" r="1.45"/><circle cx="525.02" cy="247.81" r="1.45"/><circle cx="491.61" cy="248.61" r="1.45"/><circle cx="488.93" cy="248.15" r="1.45"/><circle cx="523.45" cy="248.85" r="1.45"/><circle cx="485.77" cy="248.51" r="1.45"/><circle cx="528.92" cy="248.35" r="1.45"/><circle cx="522.7" cy="248.82" r="1.45"/><circle cx="524.19" cy="248.84" r="1.45"/><circle cx="490.32" cy="248.79" r="1.45"/><circle cx="490.48" cy="249.08" r="1.45"/><circle cx="486.13" cy="249.25" r="1.45"/><circle cx="523.71" cy="248.93" r="1.45"/><circle cx="525.09" cy="249.17" r="1.45"/><circle cx="482.99" cy="249.63" r="1.45"/><circle cx="490.84" cy="248.94" r="1.45"/><circle cx="523.57" cy="250.07" r="1.45"/><circle cx="525.07" cy="249.63" r="1.45"/><circle cx="522.51" cy="250.05" r="1.45"/><circle cx="489.66" cy="250.05" r="1.45"/><circle cx="491.58" cy="250.01" r="1.45"/><circle cx="520.77" cy="250.24" r="1.45"/><circle cx="521.84" cy="250.23" r="1.45"/><circle cx="520.79" cy="250.89" r="1.45"/><circle cx="493.39" cy="250.99" r="1.45"/><circle cx="524.47" cy="250.55" r="1.45"/><circle cx="492.3" cy="251.05" r="1.45"/><circle cx="520.63" cy="251.17" r="1.45"/><circle cx="525.29" cy="251.38" r="1.45"/><circle cx="522.15" cy="250.79" r="1.45"/><circle cx="526.16" cy="251.02" r="1.45"/><circle cx="492.21" cy="250.94" r="1.45"/><circle cx="526.51" cy="251.64" r="1.45"/><circle cx="492.77" cy="251.51" r="1.45"/><circle cx="524.73" cy="251.89" r="1.45"/><circle cx="492.29" cy="251.51" r="1.45"/><circle cx="492.66" cy="251.41" r="1.45"/><circle cx="491.91" cy="252.12" r="1.45"/><circle cx="492.6" cy="251.61" r="1.45"/><circle cx="521.05" cy="251.85" r="1.45"/><circle cx="519.91" cy="252.23" r="1.45"/><circle cx="519.36" cy="252.76" r="1.45"/><circle cx="493.33" cy="252.03" r="1.45"/><circle cx="493.1" cy="252.49" r="1.45"/><circle cx="519.15" cy="252.71" r="1.45"/><circle cx="493.06" cy="252.56" r="1.45"/><circle cx="519.38" cy="252.65" r="1.45"/><circle cx="522.56" cy="252.48" r="1.45"/><circle cx="493.9" cy="253.17" r="1.45"/><circle cx="525.93" cy="252.75" r="1.45"/><circle cx="519.63" cy="252.76" r="1.45"/><circle cx="522.74" cy="252.86" r="1.45"/><circle cx="494.83" cy="253.33" r="1.45"/><circle cx="494.51" cy="253.56" r="1.45"/><circle cx="494.16" cy="253.23" r="1.45"/><circle cx="495.03" cy="253.53" r="1.45"/><circle cx="495.09" cy="253.62" r="1.45"/><circle cx="519.33" cy="253.4" r="1.45"/><circle cx="524.2" cy="253.89" r="1.45"/><circle cx="518.04" cy="254.45" r="1.45"/><circle cx="491.05" cy="254.09" r="1.45"/><circle cx="520.65" cy="254.51" r="1.45"/><circle cx="494.81" cy="253.98" r="1.45"/><circle cx="495.54" cy="254.18" r="1.45"/><circle cx="522.72" cy="254.48" r="1.45"/><circle cx="517.68" cy="254.43" r="1.45"/><circle cx="518.62" cy="254.32" r="1.45"/><circle cx="522.9" cy="254.58" r="1.45"/><circle cx="518.21" cy="254.38" r="1.45"/><circle cx="495.97" cy="254.78" r="1.45"/><circle cx="496.01" cy="254.61" r="1.45"/><circle cx="517.71" cy="254.6" r="1.45"/><circle cx="517.46" cy="254.65" r="1.45"/><circle cx="517.55" cy="255.25" r="1.45"/><circle cx="517.71" cy="254.98" r="1.45"/><circle cx="516.22" cy="255.68" r="1.45"/><circle cx="517.39" cy="255.59" r="1.45"/><circle cx="517.12" cy="255.86" r="1.45"/><circle cx="496.47" cy="255.27" r="1.45"/><circle cx="493.31" cy="255.86" r="1.45"/><circle cx="516.85" cy="255.67" r="1.45"/><circle cx="518.1" cy="255.79" r="1.45"/><circle cx="492.09" cy="255.84" r="1.45"/><circle cx="496.5" cy="256.04" r="1.45"/><circle cx="495.25" cy="255.94" r="1.45"/><circle cx="495.47" cy="255.68" r="1.45"/><circle cx="517.8" cy="256.14" r="1.45"/><circle cx="497.29" cy="256.11" r="1.45"/><circle cx="498.44" cy="256.09" r="1.45"/><circle cx="516.23" cy="256.42" r="1.45"/><circle cx="497.6" cy="256.73" r="1.45"/><circle cx="519.09" cy="256.65" r="1.45"/><circle cx="497.45" cy="256.38" r="1.45"/><circle cx="498.98" cy="257.04" r="1.45"/><circle cx="518.32" cy="256.89" r="1.45"/><circle cx="496.45" cy="256.63" r="1.45"/><circle cx="498.08" cy="256.75" r="1.45"/><circle cx="517.18" cy="256.99" r="1.45"/><circle cx="498.67" cy="256.9" r="1.45"/><circle cx="516.02" cy="257.11" r="1.45"/><circle cx="498.63" cy="257.47" r="1.45"/><circle cx="495.66" cy="257.62" r="1.45"/><circle cx="499.16" cy="257.5" r="1.45"/><circle cx="515.7" cy="257.25" r="1.45"/><circle cx="515.38" cy="257.63" r="1.45"/><circle cx="499.07" cy="257.78" r="1.45"/><circle cx="515.28" cy="257.82" r="1.45"/><circle cx="514.43" cy="258.05" r="1.45"/><circle cx="498.98" cy="257.83" r="1.45"/><circle cx="514.33" cy="258.12" r="1.45"/><circle cx="499.26" cy="257.88" r="1.45"/><circle cx="513.7" cy="258.51" r="1.45"/><circle cx="500.16" cy="258.03" r="1.45"/><circle cx="514.06" cy="258.3" r="1.45"/><circle cx="513.65" cy="258.63" r="1.45"/><circle cx="517.05" cy="258.17" r="1.45"/><circle cx="514.74" cy="258.44" r="1.45"/><circle cx="500.61" cy="258.9" r="1.45"/><circle cx="500.21" cy="258.7" r="1.45"/><circle cx="498.93" cy="258.54" r="1.45"/><circle cx="513.4" cy="258.76" r="1.45"/><circle cx="500.24" cy="258.6" r="1.45"/><circle cx="514.43" cy="258.7" r="1.45"/><circle cx="500.23" cy="258.8" r="1.45"/><circle cx="515.86" cy="258.95" r="1.45"/><circle cx="515.29" cy="258.84" r="1.45"/><circle cx="513.48" cy="259.06" r="1.45"/><circle cx="515.37" cy="259.19" r="1.45"/><circle cx="501.74" cy="259.77" r="1.45"/><circle cx="512.83" cy="259.27" r="1.45"/><circle cx="500.88" cy="259.28" r="1.45"/><circle cx="500.49" cy="259.67" r="1.45"/><circle cx="501.88" cy="259.79" r="1.45"/><circle cx="498.31" cy="259.41" r="1.45"/><circle cx="513.06" cy="260.2" r="1.45"/><circle cx="514.17" cy="259.86" r="1.45"/><circle cx="501.3" cy="259.57" r="1.45"/><circle cx="502.39" cy="260.29" r="1.45"/><circle cx="502.67" cy="260.07" r="1.45"/><circle cx="502.14" cy="259.92" r="1.45"/><circle cx="502.59" cy="260.39" r="1.45"/><circle cx="502.56" cy="260.34" r="1.45"/><circle cx="502.7" cy="260.36" r="1.45"/><circle cx="511.71" cy="260.78" r="1.45"/><circle cx="503.18" cy="260.71" r="1.45"/><circle cx="503.49" cy="260.71" r="1.45"/><circle cx="500.74" cy="260.7" r="1.45"/><circle cx="512.8" cy="260.94" r="1.45"/><circle cx="503.96" cy="261.05" r="1.45"/><circle cx="511.1" cy="261.28" r="1.45"/><circle cx="504.08" cy="261.24" r="1.45"/><circle cx="503.93" cy="261.08" r="1.45"/><circle cx="511.26" cy="261.31" r="1.45"/><circle cx="510.54" cy="261.56" r="1.45"/><circle cx="510.36" cy="261.64" r="1.45"/><circle cx="511.32" cy="261.08" r="1.45"/><circle cx="504.36" cy="261.44" r="1.45"/><circle cx="510.32" cy="261.61" r="1.45"/><circle cx="509.89" cy="262.27" r="1.45"/><circle cx="505.06" cy="261.76" r="1.45"/><circle cx="510.4" cy="261.87" r="1.45"/><circle cx="510.48" cy="261.73" r="1.45"/><circle cx="505.43" cy="262.03" r="1.45"/><circle cx="509.69" cy="262.2" r="1.45"/><circle cx="509.67" cy="262.17" r="1.45"/><circle cx="506.99" cy="262.69" r="1.45"/><circle cx="509.61" cy="262.23" r="1.45"/><circle cx="509.35" cy="262.43" r="1.45"/><circle cx="507.07" cy="262.69" r="1.45"/><circle cx="506.48" cy="262.41" r="1.45"/><circle cx="509.54" cy="262.4" r="1.45"/><circle cx="507.87" cy="263.04" r="1.45"/><circle cx="508.62" cy="262.98" r="1.45"/><circle cx="508.82" cy="262.89" r="1.45"/><circle cx="508.6" cy="262.98" r="1.45"/><circle cx="508.15" cy="263.16" r="1.45"/><circle cx="508.1" cy="263.33" r="1.45"/></g>
<circle cx="615.2" cy="30.7" r="3.3" fill="#dc2f2a"/>
<circle cx="606" cy="39.9" r="3.3" fill="#dc2f2a"/>
<circle cx="589.6" cy="118.8" r="3.25" fill="#8f4a24"/>
<circle cx="596.1" cy="125.1" r="3.25" fill="#8f4a24"/>
<circle cx="606" cy="119.9" r="3.25" fill="#8f4a24"/>
<line x1="586.1" y1="9" x2="609.9" y2="26.8" stroke="#333" stroke-width="0.9" stroke-linecap="butt"/>
<line x1="575.1" y1="37.3" x2="598.8" y2="39.3" stroke="#333" stroke-width="0.9" stroke-linecap="butt"/>
<line x1="573.1" y1="78.2" x2="601.6" y2="114.4" stroke="#333" stroke-width="0.9" stroke-linecap="butt"/>
<line x1="555" y1="104.1" x2="582.8" y2="115.7" stroke="#333" stroke-width="0.9" stroke-linecap="butt"/>
<line x1="565.5" y1="121.7" x2="588.3" y2="124.2" stroke="#333" stroke-width="0.9" stroke-linecap="butt"/>
<text x="484" y="9.6" font-size="12.9" fill="#1c1c1c" text-anchor="start" >Cyclohexylamine</text>
<text x="439.7" y="38.8" font-size="12.9" fill="#1c1c1c" text-anchor="start" >1,2-distearoyl-glycero-</text>
<text x="439.7" y="54" font-size="12.9" fill="#1c1c1c" text-anchor="start" >3-phosphocholine</text>
<text x="501.2" y="75.9" font-size="12.9" fill="#1c1c1c" text-anchor="start" ><tspan font-style="italic">N</tspan>-acetylneuraminic acid</text>
<text x="494" y="107.3" font-size="12.9" fill="#1c1c1c" text-anchor="start" >Piperidine</text>
<text x="433.6" y="123.8" font-size="12.9" fill="#1c1c1c" text-anchor="start" >Stearoyl ethanolamide</text>
<text x="614" y="90.9" font-size="15.5" fill="#dc3434" text-anchor="start" >Bonferroni</text>
<text x="614" y="128" font-size="15.4" fill="#8e4b27" text-anchor="start" >FDR (5%)</text>
<text x="-0.3" y="372.9" font-size="15.5" fill="#231f20" text-anchor="start" font-weight="bold">c</text>
<text x="130.5" y="405.3" font-size="15.7" fill="#1c1c1c" text-anchor="middle" >Cyclohexylamine</text>
<text transform="translate(12.6,499.9) rotate(-90)" font-size="15.4" fill="#1c1c1c" text-anchor="middle">Abundance</text>
<line x1="37.5" y1="543.1" x2="40.5" y2="543.1" stroke="#555" stroke-width="1" stroke-linecap="butt"/>
<text x="36.5" y="547" font-size="12.8" fill="#3a3131" text-anchor="end" >0</text>
<line x1="37.5" y1="495.3" x2="40.5" y2="495.3" stroke="#555" stroke-width="1" stroke-linecap="butt"/>
<text x="36.5" y="499.2" font-size="12.8" fill="#3a3131" text-anchor="end" >1</text>
<line x1="37.5" y1="447.5" x2="40.5" y2="447.5" stroke="#555" stroke-width="1" stroke-linecap="butt"/>
<text x="36.5" y="451.4" font-size="12.8" fill="#3a3131" text-anchor="end" >2</text>
<line x1="89" y1="588.7" x2="89" y2="591.7" stroke="#555" stroke-width="1" stroke-linecap="butt"/>
<line x1="169" y1="588.7" x2="169" y2="591.7" stroke="#555" stroke-width="1" stroke-linecap="butt"/>
<text x="87.1" y="609.3" font-size="15.5" fill="#3a3131" text-anchor="middle" >Control</text>
<text x="172.8" y="609.3" font-size="15.5" fill="#3a3131" text-anchor="middle" >DR + DKD</text>
<line x1="58.5" y1="581.1" x2="118.7" y2="581.1" stroke="#000" stroke-width="2.2" stroke-linecap="butt"/>
<line x1="169" y1="435.4" x2="169" y2="481.3" stroke="#2a2a2a" stroke-width="1.3" stroke-linecap="butt"/>
<rect x="139" y="481.3" width="60.5" height="99.8" fill="#df80ad" stroke="#111" stroke-width="1.1"/>
<line x1="139" y1="497.1" x2="199.5" y2="497.1" stroke="#000" stroke-width="2.2" stroke-linecap="butt"/>
<g fill="#000" fill-opacity="0.6"><circle cx="77.8" cy="459.7" r="1.3"/><circle cx="80.6" cy="459.7" r="1.3"/><circle cx="101.6" cy="459.7" r="1.3"/><circle cx="94" cy="464.3" r="1.3"/><circle cx="77.5" cy="469" r="1.3"/><circle cx="97.9" cy="469" r="1.3"/><circle cx="100.5" cy="475.5" r="1.3"/><circle cx="91.7" cy="477.3" r="1.3"/><circle cx="85.8" cy="480.1" r="1.3"/><circle cx="87.7" cy="480.1" r="1.3"/><circle cx="102" cy="483.8" r="1.3"/><circle cx="83" cy="487.5" r="1.3"/><circle cx="89.9" cy="488.4" r="1.3"/><circle cx="97.3" cy="489.4" r="1.3"/><circle cx="96" cy="490.9" r="1.3"/><circle cx="104.7" cy="490.3" r="1.3"/><circle cx="88" cy="492.2" r="1.3"/><circle cx="102.3" cy="493.1" r="1.3"/><circle cx="90.8" cy="495.3" r="1.3"/><circle cx="79.7" cy="497.2" r="1.3"/><circle cx="83" cy="499.6" r="1.3"/><circle cx="85.3" cy="501.4" r="1.3"/><circle cx="80.6" cy="502.7" r="1.3"/><circle cx="94.2" cy="502.7" r="1.3"/><circle cx="95.1" cy="503.7" r="1.3"/><circle cx="101" cy="504.8" r="1.3"/><circle cx="79.7" cy="505.7" r="1.3"/><circle cx="79.3" cy="511.1" r="1.3"/><circle cx="89" cy="512.2" r="1.3"/><circle cx="103.2" cy="519.1" r="1.3"/><circle cx="102.7" cy="520.4" r="1.3"/><circle cx="94.9" cy="522.8" r="1.3"/><circle cx="94.2" cy="532.6" r="1.3"/><circle cx="81.9" cy="547.3" r="1.3"/><circle cx="93.86" cy="581.1" r="1.3"/><circle cx="96.26" cy="581.1" r="1.3"/><circle cx="79.09" cy="581.1" r="1.3"/><circle cx="87.16" cy="581.1" r="1.3"/><circle cx="97.2" cy="581.1" r="1.3"/><circle cx="91.38" cy="581.1" r="1.3"/><circle cx="77.78" cy="581.1" r="1.3"/><circle cx="87.86" cy="581.1" r="1.3"/><circle cx="100.55" cy="581.1" r="1.3"/><circle cx="81.14" cy="581.1" r="1.3"/><circle cx="79.75" cy="581.1" r="1.3"/><circle cx="83.05" cy="581.1" r="1.3"/><circle cx="95.09" cy="581.1" r="1.3"/><circle cx="99.31" cy="581.1" r="1.3"/><circle cx="78.64" cy="581.1" r="1.3"/><circle cx="78.68" cy="581.1" r="1.3"/><circle cx="81.43" cy="581.1" r="1.3"/><circle cx="83.8" cy="581.1" r="1.3"/><circle cx="89.67" cy="581.1" r="1.3"/><circle cx="78.83" cy="581.1" r="1.3"/><circle cx="83.84" cy="581.1" r="1.3"/><circle cx="79.68" cy="581.1" r="1.3"/><circle cx="103.25" cy="581.1" r="1.3"/><circle cx="95.86" cy="581.1" r="1.3"/><circle cx="77.05" cy="581.1" r="1.3"/><circle cx="102.87" cy="581.1" r="1.3"/><circle cx="77.05" cy="581.1" r="1.3"/><circle cx="85.53" cy="581.1" r="1.3"/><circle cx="103.51" cy="581.1" r="1.3"/><circle cx="97.85" cy="581.1" r="1.3"/><circle cx="96" cy="581.1" r="1.3"/><circle cx="87.05" cy="581.1" r="1.3"/><circle cx="79.89" cy="581.1" r="1.3"/><circle cx="93.14" cy="581.1" r="1.3"/><circle cx="77.21" cy="581.1" r="1.3"/><circle cx="80.19" cy="581.1" r="1.3"/><circle cx="85.65" cy="581.1" r="1.3"/><circle cx="75.02" cy="581.1" r="1.3"/><circle cx="85.97" cy="581.1" r="1.3"/><circle cx="97.73" cy="581.1" r="1.3"/><circle cx="94.8" cy="581.1" r="1.3"/><circle cx="89.01" cy="581.1" r="1.3"/><circle cx="92.97" cy="581.1" r="1.3"/><circle cx="87.9" cy="581.1" r="1.3"/><circle cx="78.25" cy="581.1" r="1.3"/><circle cx="92.11" cy="581.1" r="1.3"/><circle cx="86.14" cy="581.1" r="1.3"/><circle cx="96.23" cy="581.1" r="1.3"/><circle cx="101.24" cy="581.1" r="1.3"/><circle cx="86.9" cy="581.1" r="1.3"/><circle cx="91.22" cy="581.1" r="1.3"/><circle cx="96.47" cy="581.1" r="1.3"/><circle cx="86.63" cy="581.1" r="1.3"/><circle cx="80.86" cy="581.1" r="1.3"/><circle cx="95.67" cy="581.1" r="1.3"/><circle cx="100.4" cy="581.1" r="1.3"/><circle cx="97.22" cy="581.1" r="1.3"/><circle cx="95" cy="581.1" r="1.3"/><circle cx="99.57" cy="581.1" r="1.3"/><circle cx="94.39" cy="581.1" r="1.3"/><circle cx="93.25" cy="581.1" r="1.3"/><circle cx="87.62" cy="581.1" r="1.3"/><circle cx="83.39" cy="581.1" r="1.3"/><circle cx="92.85" cy="581.1" r="1.3"/><circle cx="76.94" cy="581.1" r="1.3"/><circle cx="86.59" cy="581.1" r="1.3"/><circle cx="97.47" cy="581.1" r="1.3"/><circle cx="95.39" cy="581.1" r="1.3"/><circle cx="92.89" cy="581.1" r="1.3"/><circle cx="81.5" cy="581.1" r="1.3"/><circle cx="173.62" cy="456.68" r="1.3"/><circle cx="165.01" cy="499.7" r="1.3"/><circle cx="181.43" cy="474.83" r="1.3"/><circle cx="179.28" cy="495.75" r="1.3"/><circle cx="156.15" cy="495.23" r="1.3"/><circle cx="178.51" cy="500.82" r="1.3"/><circle cx="180.77" cy="517.77" r="1.3"/><circle cx="177.24" cy="473.39" r="1.3"/><circle cx="158.57" cy="461.08" r="1.3"/><circle cx="178.61" cy="480.43" r="1.3"/><circle cx="172.86" cy="499.69" r="1.3"/><circle cx="154.93" cy="521.59" r="1.3"/><circle cx="154.83" cy="480.46" r="1.3"/><circle cx="182.1" cy="463" r="1.3"/><circle cx="173.52" cy="478.38" r="1.3"/><circle cx="161.75" cy="467.84" r="1.3"/><circle cx="157.44" cy="458.62" r="1.3"/><circle cx="158.64" cy="464.5" r="1.3"/><circle cx="161.28" cy="490.73" r="1.3"/><circle cx="177.01" cy="465.74" r="1.3"/><circle cx="164.55" cy="470.37" r="1.3"/><circle cx="158.93" cy="509.06" r="1.3"/><circle cx="180.72" cy="490.13" r="1.3"/><circle cx="177.46" cy="507.17" r="1.3"/><circle cx="159.37" cy="485.18" r="1.3"/><circle cx="180.34" cy="473.68" r="1.3"/><circle cx="172.14" cy="501.22" r="1.3"/><circle cx="177.16" cy="517.74" r="1.3"/><circle cx="173.89" cy="461.63" r="1.3"/><circle cx="180.42" cy="477.05" r="1.3"/><circle cx="177.35" cy="458.74" r="1.3"/><circle cx="178.83" cy="505.49" r="1.3"/><circle cx="160.22" cy="465.61" r="1.3"/><circle cx="174.59" cy="448.65" r="1.3"/><circle cx="169.89" cy="449.77" r="1.3"/><circle cx="176.02" cy="486.86" r="1.3"/><circle cx="167.22" cy="478.85" r="1.3"/><circle cx="180.1" cy="485.93" r="1.3"/><circle cx="170.6" cy="466.65" r="1.3"/><circle cx="162.17" cy="465.99" r="1.3"/><circle cx="161.29" cy="481.89" r="1.3"/><circle cx="158.54" cy="506.09" r="1.3"/><circle cx="168.8" cy="470.95" r="1.3"/><circle cx="156.2" cy="491.21" r="1.3"/><circle cx="168.05" cy="472.83" r="1.3"/><circle cx="158.69" cy="478.95" r="1.3"/><circle cx="168.75" cy="456.19" r="1.3"/><circle cx="168.95" cy="464.32" r="1.3"/><circle cx="170.15" cy="490.9" r="1.3"/><circle cx="179.52" cy="477.51" r="1.3"/><circle cx="154.69" cy="453.84" r="1.3"/><circle cx="178.88" cy="492.34" r="1.3"/><circle cx="168.07" cy="476.1" r="1.3"/><circle cx="170.81" cy="463.43" r="1.3"/><circle cx="173.79" cy="462.32" r="1.3"/><circle cx="178.88" cy="474.67" r="1.3"/><circle cx="165.37" cy="505.44" r="1.3"/><circle cx="166.65" cy="504.45" r="1.3"/><circle cx="182.36" cy="479.21" r="1.3"/><circle cx="156.69" cy="476.87" r="1.3"/><circle cx="172.97" cy="440.73" r="1.3"/><circle cx="172.95" cy="497.76" r="1.3"/><circle cx="155.33" cy="464.31" r="1.3"/><circle cx="172.18" cy="470.46" r="1.3"/><circle cx="174.3" cy="511.31" r="1.3"/><circle cx="181.51" cy="497.04" r="1.3"/><circle cx="164.08" cy="480.57" r="1.3"/><circle cx="182.97" cy="491.61" r="1.3"/><circle cx="169.31" cy="485.93" r="1.3"/><circle cx="168.56" cy="475.48" r="1.3"/><circle cx="180.53" cy="496.89" r="1.3"/><circle cx="155.48" cy="475.55" r="1.3"/><circle cx="175.33" cy="494" r="1.3"/><circle cx="172.63" cy="492.46" r="1.3"/><circle cx="164.32" cy="474.37" r="1.3"/><circle cx="179.49" cy="492.94" r="1.3"/><circle cx="165.12" cy="478.55" r="1.3"/><circle cx="168.26" cy="456.59" r="1.3"/><circle cx="169.74" cy="482.9" r="1.3"/><circle cx="176.85" cy="485.79" r="1.3"/><circle cx="160.61" cy="471.05" r="1.3"/><circle cx="167.12" cy="489.47" r="1.3"/><circle cx="166.75" cy="465.23" r="1.3"/><circle cx="170.57" cy="504.81" r="1.3"/><circle cx="178.48" cy="473" r="1.3"/><circle cx="162.79" cy="581.1" r="1.3"/><circle cx="178.83" cy="581.1" r="1.3"/><circle cx="166.11" cy="581.1" r="1.3"/><circle cx="169.11" cy="581.1" r="1.3"/><circle cx="162.15" cy="581.1" r="1.3"/><circle cx="169.19" cy="581.1" r="1.3"/><circle cx="183.25" cy="581.1" r="1.3"/><circle cx="173.64" cy="581.1" r="1.3"/><circle cx="177.76" cy="581.1" r="1.3"/><circle cx="163.93" cy="581.1" r="1.3"/><circle cx="163.51" cy="581.1" r="1.3"/><circle cx="162.98" cy="581.1" r="1.3"/><circle cx="171.59" cy="581.1" r="1.3"/><circle cx="173.04" cy="581.1" r="1.3"/><circle cx="177.53" cy="581.1" r="1.3"/><circle cx="155.2" cy="581.1" r="1.3"/><circle cx="175.68" cy="581.1" r="1.3"/><circle cx="180.57" cy="581.1" r="1.3"/><circle cx="170.36" cy="581.1" r="1.3"/><circle cx="155.49" cy="581.1" r="1.3"/><circle cx="163.01" cy="581.1" r="1.3"/><circle cx="154.19" cy="581.1" r="1.3"/><circle cx="159.7" cy="581.1" r="1.3"/><circle cx="181.64" cy="581.1" r="1.3"/><circle cx="172.26" cy="581.1" r="1.3"/><circle cx="176.1" cy="435.2" r="1.3"/></g>
<line x1="40.5" y1="428" x2="40.5" y2="589.25" stroke="#262626" stroke-width="1.1" stroke-linecap="butt"/>
<line x1="39.95" y1="588.7" x2="215.2" y2="588.7" stroke="#262626" stroke-width="1.1" stroke-linecap="butt"/>
<text x="358.8" y="402.1" font-size="15.7" fill="#1c1c1c" text-anchor="middle" >1,2-distearoyl-glycero-</text>
<text x="359.5" y="419.2" font-size="15.7" fill="#1c1c1c" text-anchor="middle" >3-phosphocholine</text>
<text transform="translate(243.8,499.6) rotate(-90)" font-size="15.4" fill="#1c1c1c" text-anchor="middle">Abundance</text>
<line x1="272.8" y1="581.8" x2="275.8" y2="581.8" stroke="#555" stroke-width="1" stroke-linecap="butt"/>
<text x="271.8" y="585.7" font-size="12.8" fill="#3a3131" text-anchor="end" >−1</text>
<line x1="272.8" y1="544.2" x2="275.8" y2="544.2" stroke="#555" stroke-width="1" stroke-linecap="butt"/>
<text x="271.8" y="548.1" font-size="12.8" fill="#3a3131" text-anchor="end" >0</text>
<line x1="272.8" y1="506.6" x2="275.8" y2="506.6" stroke="#555" stroke-width="1" stroke-linecap="butt"/>
<text x="271.8" y="510.5" font-size="12.8" fill="#3a3131" text-anchor="end" >1</text>
<line x1="272.8" y1="469" x2="275.8" y2="469" stroke="#555" stroke-width="1" stroke-linecap="butt"/>
<text x="271.8" y="472.9" font-size="12.8" fill="#3a3131" text-anchor="end" >2</text>
<line x1="272.8" y1="431.4" x2="275.8" y2="431.4" stroke="#555" stroke-width="1" stroke-linecap="butt"/>
<text x="271.8" y="435.3" font-size="12.8" fill="#3a3131" text-anchor="end" >3</text>
<line x1="322.3" y1="588.6" x2="322.3" y2="591.6" stroke="#555" stroke-width="1" stroke-linecap="butt"/>
<line x1="400" y1="588.6" x2="400" y2="591.6" stroke="#555" stroke-width="1" stroke-linecap="butt"/>
<text x="318" y="609.3" font-size="15.5" fill="#3a3131" text-anchor="middle" >Control</text>
<text x="403.3" y="609.3" font-size="15.5" fill="#3a3131" text-anchor="middle" >DR + DKD</text>
<line x1="322.3" y1="435.1" x2="322.3" y2="520.3" stroke="#2a2a2a" stroke-width="1.3" stroke-linecap="butt"/>
<rect x="293" y="520.3" width="58.5" height="61.3" fill="#b1dec7" stroke="#111" stroke-width="1.1"/>
<line x1="293" y1="581.6" x2="351.5" y2="581.6" stroke="#000" stroke-width="2.2" stroke-linecap="butt"/>
<line x1="400" y1="474.5" x2="400" y2="504.4" stroke="#2a2a2a" stroke-width="1.3" stroke-linecap="butt"/>
<rect x="370.8" y="504.4" width="59" height="77.2" fill="#df80ad" stroke="#111" stroke-width="1.1"/>
<line x1="370.8" y1="518.8" x2="429.8" y2="518.8" stroke="#000" stroke-width="2.2" stroke-linecap="butt"/>
<g fill="#000" fill-opacity="0.6"><circle cx="321.16" cy="528.68" r="1.3"/><circle cx="334.84" cy="535.44" r="1.3"/><circle cx="315.17" cy="500.73" r="1.3"/><circle cx="335.77" cy="525.72" r="1.3"/><circle cx="328.6" cy="529.73" r="1.3"/><circle cx="308.13" cy="528.37" r="1.3"/><circle cx="308.23" cy="521.86" r="1.3"/><circle cx="326.67" cy="532.73" r="1.3"/><circle cx="331.5" cy="519.82" r="1.3"/><circle cx="310.11" cy="524.25" r="1.3"/><circle cx="316.82" cy="523.25" r="1.3"/><circle cx="328.95" cy="528.63" r="1.3"/><circle cx="312.61" cy="515.52" r="1.3"/><circle cx="332.77" cy="522.06" r="1.3"/><circle cx="321.9" cy="514.49" r="1.3"/><circle cx="309.53" cy="512.72" r="1.3"/><circle cx="318.46" cy="511.52" r="1.3"/><circle cx="324.47" cy="544.81" r="1.3"/><circle cx="320.52" cy="523.05" r="1.3"/><circle cx="327.43" cy="526.47" r="1.3"/><circle cx="312" cy="505.81" r="1.3"/><circle cx="330.92" cy="536.76" r="1.3"/><circle cx="318.33" cy="525.4" r="1.3"/><circle cx="326.5" cy="519.87" r="1.3"/><circle cx="326.06" cy="520.42" r="1.3"/><circle cx="319.92" cy="502.96" r="1.3"/><circle cx="318.99" cy="521.83" r="1.3"/><circle cx="330.6" cy="503.3" r="1.3"/><circle cx="335.2" cy="535.29" r="1.3"/><circle cx="330.55" cy="539.85" r="1.3"/><circle cx="324.24" cy="499.95" r="1.3"/><circle cx="316.28" cy="510.27" r="1.3"/><circle cx="309.56" cy="509.58" r="1.3"/><circle cx="336.04" cy="514.38" r="1.3"/><circle cx="328.19" cy="509.63" r="1.3"/><circle cx="331.79" cy="532" r="1.3"/><circle cx="317.43" cy="503.52" r="1.3"/><circle cx="325.37" cy="523" r="1.3"/><circle cx="336.15" cy="503.03" r="1.3"/><circle cx="331.91" cy="514.85" r="1.3"/><circle cx="325.23" cy="541.97" r="1.3"/><circle cx="316.75" cy="532.94" r="1.3"/><circle cx="320.23" cy="501.16" r="1.3"/><circle cx="333.56" cy="517.8" r="1.3"/><circle cx="318.72" cy="521.2" r="1.3"/><circle cx="327.66" cy="512.81" r="1.3"/><circle cx="325.25" cy="521.59" r="1.3"/><circle cx="333.79" cy="523.17" r="1.3"/><circle cx="331.22" cy="514.65" r="1.3"/><circle cx="316.02" cy="514.1" r="1.3"/><circle cx="307.85" cy="496.04" r="1.3"/><circle cx="315.43" cy="515.4" r="1.3"/><circle cx="320.05" cy="491.26" r="1.3"/><circle cx="324.81" cy="492.28" r="1.3"/><circle cx="331.46" cy="493.41" r="1.3"/><circle cx="333.54" cy="502.03" r="1.3"/><circle cx="309.03" cy="514.28" r="1.3"/><circle cx="331.96" cy="514.19" r="1.3"/><circle cx="331.34" cy="517.88" r="1.3"/><circle cx="332.95" cy="525.62" r="1.3"/><circle cx="324.39" cy="516.87" r="1.3"/><circle cx="315.74" cy="524.43" r="1.3"/><circle cx="332.48" cy="494.42" r="1.3"/><circle cx="331.2" cy="508.97" r="1.3"/><circle cx="327.65" cy="521.88" r="1.3"/><circle cx="334.3" cy="541.21" r="1.3"/><circle cx="317.86" cy="516.7" r="1.3"/><circle cx="310.27" cy="521.48" r="1.3"/><circle cx="323.86" cy="530.29" r="1.3"/><circle cx="330.92" cy="530.96" r="1.3"/><circle cx="309.2" cy="435.91" r="1.3"/><circle cx="336.5" cy="470.88" r="1.3"/><circle cx="326" cy="478.4" r="1.3"/><circle cx="313.31" cy="581.6" r="1.3"/><circle cx="329.81" cy="581.6" r="1.3"/><circle cx="335.25" cy="581.6" r="1.3"/><circle cx="314.32" cy="581.6" r="1.3"/><circle cx="325.51" cy="581.6" r="1.3"/><circle cx="327.63" cy="581.6" r="1.3"/><circle cx="321.26" cy="581.6" r="1.3"/><circle cx="313.5" cy="581.6" r="1.3"/><circle cx="314.94" cy="581.6" r="1.3"/><circle cx="329.83" cy="581.6" r="1.3"/><circle cx="331.05" cy="581.6" r="1.3"/><circle cx="321.09" cy="581.6" r="1.3"/><circle cx="309.93" cy="581.6" r="1.3"/><circle cx="331.5" cy="581.6" r="1.3"/><circle cx="330.46" cy="581.6" r="1.3"/><circle cx="314.29" cy="581.6" r="1.3"/><circle cx="324.69" cy="581.6" r="1.3"/><circle cx="334.21" cy="581.6" r="1.3"/><circle cx="333.85" cy="581.6" r="1.3"/><circle cx="322.96" cy="581.6" r="1.3"/><circle cx="321.6" cy="581.6" r="1.3"/><circle cx="324.98" cy="581.6" r="1.3"/><circle cx="312.97" cy="581.6" r="1.3"/><circle cx="313.07" cy="581.6" r="1.3"/><circle cx="312.72" cy="581.6" r="1.3"/><circle cx="328.33" cy="581.6" r="1.3"/><circle cx="318.18" cy="581.6" r="1.3"/><circle cx="324.23" cy="581.6" r="1.3"/><circle cx="319.37" cy="581.6" r="1.3"/><circle cx="322.82" cy="581.6" r="1.3"/><circle cx="311.77" cy="581.6" r="1.3"/><circle cx="308.64" cy="581.6" r="1.3"/><circle cx="337.21" cy="581.6" r="1.3"/><circle cx="318.52" cy="581.6" r="1.3"/><circle cx="310.48" cy="581.6" r="1.3"/><circle cx="326.28" cy="581.6" r="1.3"/><circle cx="330.92" cy="581.6" r="1.3"/><circle cx="311.98" cy="581.6" r="1.3"/><circle cx="325.22" cy="581.6" r="1.3"/><circle cx="317.65" cy="581.6" r="1.3"/><circle cx="322.88" cy="581.6" r="1.3"/><circle cx="307.92" cy="581.6" r="1.3"/><circle cx="308.31" cy="581.6" r="1.3"/><circle cx="337.01" cy="581.6" r="1.3"/><circle cx="333.28" cy="581.6" r="1.3"/><circle cx="321.89" cy="581.6" r="1.3"/><circle cx="324.32" cy="581.6" r="1.3"/><circle cx="315.15" cy="581.6" r="1.3"/><circle cx="330.68" cy="581.6" r="1.3"/><circle cx="320.08" cy="581.6" r="1.3"/><circle cx="335.69" cy="581.6" r="1.3"/><circle cx="330.32" cy="581.6" r="1.3"/><circle cx="331.86" cy="581.6" r="1.3"/><circle cx="336.2" cy="581.6" r="1.3"/><circle cx="314.92" cy="581.6" r="1.3"/><circle cx="308.44" cy="581.6" r="1.3"/><circle cx="313.33" cy="581.6" r="1.3"/><circle cx="312.72" cy="581.6" r="1.3"/><circle cx="309.81" cy="581.6" r="1.3"/><circle cx="308.83" cy="581.6" r="1.3"/><circle cx="324.02" cy="581.6" r="1.3"/><circle cx="333.42" cy="581.6" r="1.3"/><circle cx="321.05" cy="581.6" r="1.3"/><circle cx="335.72" cy="581.6" r="1.3"/><circle cx="334.6" cy="581.6" r="1.3"/><circle cx="309.23" cy="581.6" r="1.3"/><circle cx="325.24" cy="581.6" r="1.3"/><circle cx="319.22" cy="581.6" r="1.3"/><circle cx="310.9" cy="581.6" r="1.3"/><circle cx="336.08" cy="581.6" r="1.3"/><circle cx="315.02" cy="581.6" r="1.3"/><circle cx="324.23" cy="581.6" r="1.3"/><circle cx="326.52" cy="581.6" r="1.3"/><circle cx="335.99" cy="581.6" r="1.3"/><circle cx="327.39" cy="581.6" r="1.3"/><circle cx="394.01" cy="519.72" r="1.3"/><circle cx="413.88" cy="499.55" r="1.3"/><circle cx="385.96" cy="490.11" r="1.3"/><circle cx="408.9" cy="479.64" r="1.3"/><circle cx="395.39" cy="499.17" r="1.3"/><circle cx="389.56" cy="508.96" r="1.3"/><circle cx="385.56" cy="498.66" r="1.3"/><circle cx="409.64" cy="506.05" r="1.3"/><circle cx="400.77" cy="525.47" r="1.3"/><circle cx="390.89" cy="485.71" r="1.3"/><circle cx="398.12" cy="487.78" r="1.3"/><circle cx="411.95" cy="522.63" r="1.3"/><circle cx="391.83" cy="486.36" r="1.3"/><circle cx="402.07" cy="501.74" r="1.3"/><circle cx="389.5" cy="513.25" r="1.3"/><circle cx="390.72" cy="526.86" r="1.3"/><circle cx="407.84" cy="504.04" r="1.3"/><circle cx="406.14" cy="508.89" r="1.3"/><circle cx="391.2" cy="494.93" r="1.3"/><circle cx="387.8" cy="491.06" r="1.3"/><circle cx="388.04" cy="490.12" r="1.3"/><circle cx="403.15" cy="515.83" r="1.3"/><circle cx="399.87" cy="513.79" r="1.3"/><circle cx="393.44" cy="491.69" r="1.3"/><circle cx="391.47" cy="508.17" r="1.3"/><circle cx="403.26" cy="514.68" r="1.3"/><circle cx="406.02" cy="513.02" r="1.3"/><circle cx="409.04" cy="499.41" r="1.3"/><circle cx="402.41" cy="497.76" r="1.3"/><circle cx="391.37" cy="497.88" r="1.3"/><circle cx="387.41" cy="503.72" r="1.3"/><circle cx="406.75" cy="500.01" r="1.3"/><circle cx="397.34" cy="496.16" r="1.3"/><circle cx="406.43" cy="492.98" r="1.3"/><circle cx="387.11" cy="487.63" r="1.3"/><circle cx="409.01" cy="506.82" r="1.3"/><circle cx="395.22" cy="507.27" r="1.3"/><circle cx="409.92" cy="505.13" r="1.3"/><circle cx="410.57" cy="500.13" r="1.3"/><circle cx="399.8" cy="512.56" r="1.3"/><circle cx="385.95" cy="484.3" r="1.3"/><circle cx="411.9" cy="519.13" r="1.3"/><circle cx="399.32" cy="502.95" r="1.3"/><circle cx="410.79" cy="513.13" r="1.3"/><circle cx="393.22" cy="514.1" r="1.3"/><circle cx="390.9" cy="506.55" r="1.3"/><circle cx="409.62" cy="485.68" r="1.3"/><circle cx="396.15" cy="519.42" r="1.3"/><circle cx="390.24" cy="518.47" r="1.3"/><circle cx="396.26" cy="518.91" r="1.3"/><circle cx="402.75" cy="521.58" r="1.3"/><circle cx="385.63" cy="487.78" r="1.3"/><circle cx="400.57" cy="526.81" r="1.3"/><circle cx="398.43" cy="505.88" r="1.3"/><circle cx="400.45" cy="502.67" r="1.3"/><circle cx="389" cy="501.2" r="1.3"/><circle cx="406.22" cy="488.97" r="1.3"/><circle cx="409.18" cy="501.22" r="1.3"/><circle cx="410.6" cy="515.43" r="1.3"/><circle cx="394.81" cy="510.9" r="1.3"/><circle cx="406.12" cy="501.35" r="1.3"/><circle cx="396.56" cy="516" r="1.3"/><circle cx="407.29" cy="514.99" r="1.3"/><circle cx="387.28" cy="504.45" r="1.3"/><circle cx="410.81" cy="511.81" r="1.3"/><circle cx="413.17" cy="483.53" r="1.3"/><circle cx="399.85" cy="512.52" r="1.3"/><circle cx="400.39" cy="501.6" r="1.3"/><circle cx="400.88" cy="519.98" r="1.3"/><circle cx="401.08" cy="507.83" r="1.3"/><circle cx="386.1" cy="503.16" r="1.3"/><circle cx="413.56" cy="512.18" r="1.3"/><circle cx="391.99" cy="504.02" r="1.3"/><circle cx="390.79" cy="509.08" r="1.3"/><circle cx="388.48" cy="493.03" r="1.3"/><circle cx="392.76" cy="520.46" r="1.3"/><circle cx="409.2" cy="504.86" r="1.3"/><circle cx="386.37" cy="493.93" r="1.3"/><circle cx="388.3" cy="510.77" r="1.3"/><circle cx="405.77" cy="498.58" r="1.3"/><circle cx="391.16" cy="504.73" r="1.3"/><circle cx="386.01" cy="496.53" r="1.3"/><circle cx="402.88" cy="474.64" r="1.3"/><circle cx="402.22" cy="511.11" r="1.3"/><circle cx="400.66" cy="503.17" r="1.3"/><circle cx="405.88" cy="511.18" r="1.3"/><circle cx="388.48" cy="515.35" r="1.3"/><circle cx="410.72" cy="481.32" r="1.3"/><circle cx="406.3" cy="488.66" r="1.3"/><circle cx="386.81" cy="500.99" r="1.3"/><circle cx="388.69" cy="581.6" r="1.3"/><circle cx="399.81" cy="581.6" r="1.3"/><circle cx="400.02" cy="581.6" r="1.3"/><circle cx="393.39" cy="581.6" r="1.3"/><circle cx="388.66" cy="581.6" r="1.3"/><circle cx="397.17" cy="581.6" r="1.3"/><circle cx="389.11" cy="581.6" r="1.3"/><circle cx="402.75" cy="581.6" r="1.3"/><circle cx="410.83" cy="581.6" r="1.3"/><circle cx="389.42" cy="581.6" r="1.3"/><circle cx="402.19" cy="581.6" r="1.3"/><circle cx="407.4" cy="581.6" r="1.3"/><circle cx="389.93" cy="581.6" r="1.3"/><circle cx="409.78" cy="581.6" r="1.3"/><circle cx="413.13" cy="581.6" r="1.3"/><circle cx="396.66" cy="581.6" r="1.3"/><circle cx="397.61" cy="581.6" r="1.3"/><circle cx="410.19" cy="581.6" r="1.3"/><circle cx="400.77" cy="581.6" r="1.3"/><circle cx="396.87" cy="581.6" r="1.3"/></g>
<line x1="275.8" y1="428.9" x2="275.8" y2="589.15" stroke="#262626" stroke-width="1.1" stroke-linecap="butt"/>
<line x1="275.25" y1="588.6" x2="446.5" y2="588.6" stroke="#262626" stroke-width="1.1" stroke-linecap="butt"/>
<text x="588.5" y="405.3" font-size="15.7" fill="#1c1c1c" text-anchor="middle" >Piperidine</text>
<text transform="translate(474.9,499.8) rotate(-90)" font-size="15.4" fill="#1c1c1c" text-anchor="middle">Abundance</text>
<line x1="502.4" y1="574.7" x2="505.4" y2="574.7" stroke="#555" stroke-width="1" stroke-linecap="butt"/>
<text x="501.4" y="578.6" font-size="12.8" fill="#3a3131" text-anchor="end" >−2</text>
<line x1="502.4" y1="546.8" x2="505.4" y2="546.8" stroke="#555" stroke-width="1" stroke-linecap="butt"/>
<text x="501.4" y="550.7" font-size="12.8" fill="#3a3131" text-anchor="end" >−1</text>
<line x1="502.4" y1="518.9" x2="505.4" y2="518.9" stroke="#555" stroke-width="1" stroke-linecap="butt"/>
<text x="501.4" y="522.8" font-size="12.8" fill="#3a3131" text-anchor="end" >0</text>
<line x1="502.4" y1="491" x2="505.4" y2="491" stroke="#555" stroke-width="1" stroke-linecap="butt"/>
<text x="501.4" y="494.9" font-size="12.8" fill="#3a3131" text-anchor="end" >1</text>
<line x1="502.4" y1="463.1" x2="505.4" y2="463.1" stroke="#555" stroke-width="1" stroke-linecap="butt"/>
<text x="501.4" y="467" font-size="12.8" fill="#3a3131" text-anchor="end" >2</text>
<line x1="502.4" y1="435.2" x2="505.4" y2="435.2" stroke="#555" stroke-width="1" stroke-linecap="butt"/>
<text x="501.4" y="439.1" font-size="12.8" fill="#3a3131" text-anchor="end" >3</text>
<line x1="552.4" y1="588.5" x2="552.4" y2="591.5" stroke="#555" stroke-width="1" stroke-linecap="butt"/>
<line x1="629.6" y1="588.5" x2="629.6" y2="591.5" stroke="#555" stroke-width="1" stroke-linecap="butt"/>
<text x="548.9" y="609.3" font-size="15.5" fill="#3a3131" text-anchor="middle" >Control</text>
<text x="634.1" y="609.3" font-size="15.5" fill="#3a3131" text-anchor="middle" >DR + DKD</text>
<line x1="552.4" y1="476.9" x2="552.4" y2="515.5" stroke="#2a2a2a" stroke-width="1.3" stroke-linecap="butt"/>
<line x1="552.4" y1="542.1" x2="552.4" y2="553.2" stroke="#2a2a2a" stroke-width="1.3" stroke-linecap="butt"/>
<rect x="522.8" y="515.5" width="58.8" height="26.6" fill="#b1dec7" stroke="#111" stroke-width="1.1"/>
<line x1="522.8" y1="532.3" x2="581.6" y2="532.3" stroke="#000" stroke-width="2.2" stroke-linecap="butt"/>
<line x1="629.6" y1="456.1" x2="629.6" y2="495.4" stroke="#2a2a2a" stroke-width="1.3" stroke-linecap="butt"/>
<line x1="629.6" y1="524.6" x2="629.6" y2="545.4" stroke="#2a2a2a" stroke-width="1.3" stroke-linecap="butt"/>
<rect x="600.4" y="495.4" width="58.8" height="29.2" fill="#df80ad" stroke="#111" stroke-width="1.1"/>
<line x1="600.4" y1="512.9" x2="659.2" y2="512.9" stroke="#000" stroke-width="2.2" stroke-linecap="butt"/>
<g fill="#000" fill-opacity="0.6"><circle cx="549.2" cy="505.96" r="1.3"/><circle cx="558.74" cy="539.71" r="1.3"/><circle cx="544.32" cy="537.8" r="1.3"/><circle cx="546.87" cy="507.17" r="1.3"/><circle cx="563.28" cy="507.64" r="1.3"/><circle cx="551.95" cy="468.14" r="1.3"/><circle cx="560.89" cy="516.26" r="1.3"/><circle cx="544.96" cy="480.36" r="1.3"/><circle cx="542.93" cy="535.88" r="1.3"/><circle cx="548.29" cy="536.87" r="1.3"/><circle cx="543.31" cy="547.78" r="1.3"/><circle cx="566.07" cy="531.94" r="1.3"/><circle cx="546.33" cy="542.34" r="1.3"/><circle cx="554.18" cy="512.89" r="1.3"/><circle cx="541.23" cy="518.74" r="1.3"/><circle cx="553.38" cy="510.65" r="1.3"/><circle cx="549.08" cy="545.56" r="1.3"/><circle cx="549.59" cy="535.43" r="1.3"/><circle cx="539.8" cy="536.76" r="1.3"/><circle cx="541.48" cy="498.94" r="1.3"/><circle cx="561.85" cy="536.98" r="1.3"/><circle cx="548.09" cy="532.77" r="1.3"/><circle cx="545" cy="539.07" r="1.3"/><circle cx="543.44" cy="530.28" r="1.3"/><circle cx="546.12" cy="516.29" r="1.3"/><circle cx="544.78" cy="527.8" r="1.3"/><circle cx="538.91" cy="536.84" r="1.3"/><circle cx="557.16" cy="551.57" r="1.3"/><circle cx="547.8" cy="549.38" r="1.3"/><circle cx="542.42" cy="539.24" r="1.3"/><circle cx="558.37" cy="552.1" r="1.3"/><circle cx="540.59" cy="518.23" r="1.3"/><circle cx="545.72" cy="522.75" r="1.3"/><circle cx="562.12" cy="528.92" r="1.3"/><circle cx="541.61" cy="524.58" r="1.3"/><circle cx="550.76" cy="522.03" r="1.3"/><circle cx="562.15" cy="539.02" r="1.3"/><circle cx="561.24" cy="550.27" r="1.3"/><circle cx="542.52" cy="525.88" r="1.3"/><circle cx="548.13" cy="532.09" r="1.3"/><circle cx="558.85" cy="533.64" r="1.3"/><circle cx="548.83" cy="546.44" r="1.3"/><circle cx="565.69" cy="539.28" r="1.3"/><circle cx="543.93" cy="482.88" r="1.3"/><circle cx="565.48" cy="475.12" r="1.3"/><circle cx="552.54" cy="543.28" r="1.3"/><circle cx="544.49" cy="541.45" r="1.3"/><circle cx="551.03" cy="537.76" r="1.3"/><circle cx="541.7" cy="530.46" r="1.3"/><circle cx="558.39" cy="542.44" r="1.3"/><circle cx="545.46" cy="529.71" r="1.3"/><circle cx="563.99" cy="538.62" r="1.3"/><circle cx="554.94" cy="521.98" r="1.3"/><circle cx="548.57" cy="507.9" r="1.3"/><circle cx="545.04" cy="519.93" r="1.3"/><circle cx="555.54" cy="519.57" r="1.3"/><circle cx="544.06" cy="534.39" r="1.3"/><circle cx="563.2" cy="516.98" r="1.3"/><circle cx="541.46" cy="543.28" r="1.3"/><circle cx="552.78" cy="544.31" r="1.3"/><circle cx="553.64" cy="523.96" r="1.3"/><circle cx="545.74" cy="496.65" r="1.3"/><circle cx="560.28" cy="534.4" r="1.3"/><circle cx="549.06" cy="498.3" r="1.3"/><circle cx="556.97" cy="537.64" r="1.3"/><circle cx="554.36" cy="535" r="1.3"/><circle cx="546.91" cy="538.24" r="1.3"/><circle cx="549.21" cy="525.86" r="1.3"/><circle cx="540.4" cy="534.37" r="1.3"/><circle cx="543.03" cy="493.2" r="1.3"/><circle cx="562.58" cy="540.26" r="1.3"/><circle cx="547.21" cy="540.64" r="1.3"/><circle cx="557.12" cy="522.56" r="1.3"/><circle cx="541.06" cy="542.81" r="1.3"/><circle cx="554.2" cy="533.82" r="1.3"/><circle cx="548.38" cy="513.81" r="1.3"/><circle cx="552.41" cy="547.85" r="1.3"/><circle cx="546.51" cy="464.49" r="1.3"/><circle cx="539.81" cy="546.35" r="1.3"/><circle cx="546.93" cy="533.07" r="1.3"/><circle cx="544.47" cy="495.07" r="1.3"/><circle cx="541.56" cy="494.06" r="1.3"/><circle cx="558.68" cy="520.82" r="1.3"/><circle cx="546.09" cy="538.56" r="1.3"/><circle cx="549.6" cy="526.41" r="1.3"/><circle cx="564.26" cy="501.47" r="1.3"/><circle cx="560.37" cy="530.64" r="1.3"/><circle cx="563.5" cy="538.14" r="1.3"/><circle cx="562.88" cy="522.68" r="1.3"/><circle cx="541.73" cy="514.06" r="1.3"/><circle cx="545.92" cy="537.76" r="1.3"/><circle cx="538.76" cy="515.62" r="1.3"/><circle cx="557.61" cy="536.88" r="1.3"/><circle cx="557.14" cy="475.85" r="1.3"/><circle cx="548.09" cy="532.5" r="1.3"/><circle cx="549.86" cy="493.83" r="1.3"/><circle cx="557.01" cy="543.06" r="1.3"/><circle cx="558.18" cy="518.56" r="1.3"/><circle cx="545.1" cy="510.8" r="1.3"/><circle cx="562.45" cy="540.53" r="1.3"/><circle cx="548.11" cy="537.06" r="1.3"/><circle cx="556.14" cy="529.14" r="1.3"/><circle cx="543.17" cy="545.68" r="1.3"/><circle cx="541.24" cy="526.38" r="1.3"/><circle cx="564.37" cy="499.64" r="1.3"/><circle cx="559.19" cy="548.02" r="1.3"/><circle cx="558.57" cy="483.48" r="1.3"/><circle cx="539.07" cy="532.23" r="1.3"/><circle cx="539.06" cy="533.83" r="1.3"/><circle cx="542.6" cy="521.11" r="1.3"/><circle cx="543.64" cy="547.07" r="1.3"/><circle cx="546.69" cy="527.84" r="1.3"/><circle cx="548.94" cy="523.39" r="1.3"/><circle cx="539.04" cy="496.76" r="1.3"/><circle cx="546.92" cy="540.87" r="1.3"/><circle cx="556.41" cy="544.37" r="1.3"/><circle cx="543.11" cy="551.92" r="1.3"/><circle cx="562.24" cy="546.8" r="1.3"/><circle cx="554.43" cy="498.56" r="1.3"/><circle cx="558.68" cy="468.78" r="1.3"/><circle cx="545.29" cy="544.26" r="1.3"/><circle cx="550.51" cy="535.07" r="1.3"/><circle cx="557.75" cy="540.4" r="1.3"/><circle cx="548.02" cy="541.09" r="1.3"/><circle cx="537.93" cy="497.13" r="1.3"/><circle cx="562.09" cy="537.66" r="1.3"/><circle cx="560.42" cy="541.52" r="1.3"/><circle cx="546.2" cy="497.15" r="1.3"/><circle cx="539.15" cy="490.28" r="1.3"/><circle cx="562.67" cy="528.12" r="1.3"/><circle cx="555.51" cy="542.71" r="1.3"/><circle cx="539.27" cy="483.91" r="1.3"/><circle cx="544.99" cy="507.67" r="1.3"/><circle cx="541.12" cy="536.17" r="1.3"/><circle cx="560.85" cy="493.01" r="1.3"/><circle cx="543.99" cy="480.01" r="1.3"/><circle cx="565.83" cy="580.84" r="1.3"/><circle cx="560.89" cy="580.84" r="1.3"/><circle cx="540.98" cy="580.84" r="1.3"/><circle cx="559.24" cy="580.84" r="1.3"/><circle cx="550.21" cy="580.84" r="1.3"/><circle cx="560.83" cy="580.84" r="1.3"/><circle cx="563.26" cy="580.84" r="1.3"/><circle cx="546.83" cy="580.84" r="1.3"/><circle cx="541.1" cy="580.84" r="1.3"/><circle cx="566.79" cy="580.84" r="1.3"/><circle cx="551.12" cy="580.84" r="1.3"/><circle cx="566.31" cy="580.84" r="1.3"/><circle cx="559.15" cy="580.84" r="1.3"/><circle cx="560.56" cy="580.84" r="1.3"/><circle cx="616.77" cy="482.81" r="1.3"/><circle cx="621.97" cy="523.84" r="1.3"/><circle cx="625.9" cy="505.35" r="1.3"/><circle cx="615.54" cy="496.71" r="1.3"/><circle cx="632.33" cy="528.57" r="1.3"/><circle cx="621.28" cy="529.63" r="1.3"/><circle cx="623.8" cy="468.65" r="1.3"/><circle cx="635.62" cy="495.99" r="1.3"/><circle cx="627.45" cy="503.35" r="1.3"/><circle cx="640.87" cy="543.22" r="1.3"/><circle cx="633.11" cy="519.66" r="1.3"/><circle cx="640.39" cy="537.19" r="1.3"/><circle cx="631.43" cy="529.55" r="1.3"/><circle cx="641.71" cy="508.65" r="1.3"/><circle cx="640.35" cy="533.09" r="1.3"/><circle cx="619.97" cy="513.51" r="1.3"/><circle cx="636.72" cy="520.97" r="1.3"/><circle cx="625" cy="463.27" r="1.3"/><circle cx="637.24" cy="506.99" r="1.3"/><circle cx="634.84" cy="479.92" r="1.3"/><circle cx="639.04" cy="464.56" r="1.3"/><circle cx="618.66" cy="502.41" r="1.3"/><circle cx="625.92" cy="515.5" r="1.3"/><circle cx="636.48" cy="461.92" r="1.3"/><circle cx="642.59" cy="520.26" r="1.3"/><circle cx="636.03" cy="543.19" r="1.3"/><circle cx="616.36" cy="522.17" r="1.3"/><circle cx="632.61" cy="505.01" r="1.3"/><circle cx="617.99" cy="536.9" r="1.3"/><circle cx="631.02" cy="520.23" r="1.3"/><circle cx="638.39" cy="542.86" r="1.3"/><circle cx="618.38" cy="524.61" r="1.3"/><circle cx="641.94" cy="460.34" r="1.3"/><circle cx="634.68" cy="495.81" r="1.3"/><circle cx="622.48" cy="510.88" r="1.3"/><circle cx="620.7" cy="519.39" r="1.3"/><circle cx="628.06" cy="532.57" r="1.3"/><circle cx="639.41" cy="525.84" r="1.3"/><circle cx="631.96" cy="501.9" r="1.3"/><circle cx="618.39" cy="483.68" r="1.3"/><circle cx="615.71" cy="521.6" r="1.3"/><circle cx="618.3" cy="544.22" r="1.3"/><circle cx="638.32" cy="490.15" r="1.3"/><circle cx="620.47" cy="522.3" r="1.3"/><circle cx="631.17" cy="498.13" r="1.3"/><circle cx="623.51" cy="464.53" r="1.3"/><circle cx="635.03" cy="489.84" r="1.3"/><circle cx="626.14" cy="507.11" r="1.3"/><circle cx="619.28" cy="527.46" r="1.3"/><circle cx="640.49" cy="520.16" r="1.3"/><circle cx="630.71" cy="506.37" r="1.3"/><circle cx="635.1" cy="467.71" r="1.3"/><circle cx="638.54" cy="532.12" r="1.3"/><circle cx="642.61" cy="498.58" r="1.3"/><circle cx="615.5" cy="497.1" r="1.3"/><circle cx="625.03" cy="477.91" r="1.3"/><circle cx="619.48" cy="522.63" r="1.3"/><circle cx="629.65" cy="517.67" r="1.3"/><circle cx="640.42" cy="529.89" r="1.3"/><circle cx="638.31" cy="534.49" r="1.3"/><circle cx="616.13" cy="460.65" r="1.3"/><circle cx="620.39" cy="534.56" r="1.3"/><circle cx="638.83" cy="529.26" r="1.3"/><circle cx="634.81" cy="527.19" r="1.3"/><circle cx="626.48" cy="488.36" r="1.3"/><circle cx="628.9" cy="521.16" r="1.3"/><circle cx="619.69" cy="503.86" r="1.3"/><circle cx="639.61" cy="520.51" r="1.3"/><circle cx="626.51" cy="516.67" r="1.3"/><circle cx="640.42" cy="492.3" r="1.3"/><circle cx="632.81" cy="537.51" r="1.3"/><circle cx="617.3" cy="517.88" r="1.3"/><circle cx="624.65" cy="522.19" r="1.3"/><circle cx="621.37" cy="536.92" r="1.3"/><circle cx="641.03" cy="513.1" r="1.3"/><circle cx="632.19" cy="491.02" r="1.3"/><circle cx="616.37" cy="494.21" r="1.3"/><circle cx="620.02" cy="498.73" r="1.3"/><circle cx="625.57" cy="530.1" r="1.3"/><circle cx="628.67" cy="507.62" r="1.3"/><circle cx="631.83" cy="496.28" r="1.3"/><circle cx="626.35" cy="516.89" r="1.3"/><circle cx="625.36" cy="520.46" r="1.3"/><circle cx="615.27" cy="457.05" r="1.3"/><circle cx="631.9" cy="530.06" r="1.3"/><circle cx="624.78" cy="523.48" r="1.3"/><circle cx="615.69" cy="506.33" r="1.3"/><circle cx="628.42" cy="505.56" r="1.3"/><circle cx="643.71" cy="502.99" r="1.3"/><circle cx="616.42" cy="523.14" r="1.3"/><circle cx="619.33" cy="526.34" r="1.3"/><circle cx="634.56" cy="510.82" r="1.3"/><circle cx="623.01" cy="468.32" r="1.3"/><circle cx="623.03" cy="532.8" r="1.3"/><circle cx="629.6" cy="518.75" r="1.3"/><circle cx="622.7" cy="508.84" r="1.3"/><circle cx="631.6" cy="510.81" r="1.3"/><circle cx="630.42" cy="502.58" r="1.3"/><circle cx="642.85" cy="535.19" r="1.3"/><circle cx="643.87" cy="534.56" r="1.3"/><circle cx="616.09" cy="480" r="1.3"/><circle cx="631.36" cy="499.67" r="1.3"/><circle cx="637.46" cy="524.64" r="1.3"/><circle cx="640.4" cy="511" r="1.3"/><circle cx="637.55" cy="473.99" r="1.3"/><circle cx="633.46" cy="525.15" r="1.3"/><circle cx="633.5" cy="499.36" r="1.3"/><circle cx="625.62" cy="528.32" r="1.3"/><circle cx="624.6" cy="435.2" r="1.3"/><circle cx="638.7" cy="442.17" r="1.3"/></g>
<line x1="505.4" y1="428" x2="505.4" y2="589.05" stroke="#262626" stroke-width="1.1" stroke-linecap="butt"/>
<line x1="504.85" y1="588.5" x2="676.2" y2="588.5" stroke="#262626" stroke-width="1.1" stroke-linecap="butt"/>
<text x="131.9" y="661.9" font-size="15.7" fill="#1c1c1c" text-anchor="middle" ><tspan font-style="italic">N</tspan>-acetylneuraminic acid</text>
<text transform="translate(12.6,756) rotate(-90)" font-size="15.4" fill="#1c1c1c" text-anchor="middle">Abundance</text>
<line x1="37.8" y1="820.7" x2="40.8" y2="820.7" stroke="#555" stroke-width="1" stroke-linecap="butt"/>
<text x="36.8" y="824.6" font-size="12.8" fill="#3a3131" text-anchor="end" >−2</text>
<line x1="37.8" y1="793.4" x2="40.8" y2="793.4" stroke="#555" stroke-width="1" stroke-linecap="butt"/>
<text x="36.8" y="797.3" font-size="12.8" fill="#3a3131" text-anchor="end" >−1</text>
<line x1="37.8" y1="766.1" x2="40.8" y2="766.1" stroke="#555" stroke-width="1" stroke-linecap="butt"/>
<text x="36.8" y="770" font-size="12.8" fill="#3a3131" text-anchor="end" >0</text>
<line x1="37.8" y1="738.8" x2="40.8" y2="738.8" stroke="#555" stroke-width="1" stroke-linecap="butt"/>
<text x="36.8" y="742.7" font-size="12.8" fill="#3a3131" text-anchor="end" >1</text>
<line x1="37.8" y1="711.5" x2="40.8" y2="711.5" stroke="#555" stroke-width="1" stroke-linecap="butt"/>
<text x="36.8" y="715.4" font-size="12.8" fill="#3a3131" text-anchor="end" >2</text>
<line x1="37.8" y1="684.2" x2="40.8" y2="684.2" stroke="#555" stroke-width="1" stroke-linecap="butt"/>
<text x="36.8" y="688.1" font-size="12.8" fill="#3a3131" text-anchor="end" >3</text>
<line x1="89" y1="842.2" x2="89" y2="845.2" stroke="#555" stroke-width="1" stroke-linecap="butt"/>
<line x1="169" y1="842.2" x2="169" y2="845.2" stroke="#555" stroke-width="1" stroke-linecap="butt"/>
<text x="87.4" y="861.2" font-size="15.5" fill="#3a3131" text-anchor="middle" >Control</text>
<text x="172.8" y="861.2" font-size="15.5" fill="#3a3131" text-anchor="middle" >DR + DKD</text>
<line x1="89" y1="724.1" x2="89" y2="759.4" stroke="#2a2a2a" stroke-width="1.3" stroke-linecap="butt"/>
<line x1="89" y1="783.5" x2="89" y2="797.3" stroke="#2a2a2a" stroke-width="1.3" stroke-linecap="butt"/>
<rect x="58.8" y="759.4" width="59.7" height="24.1" fill="#b1dec7" stroke="#111" stroke-width="1.1"/>
<line x1="58.8" y1="771.1" x2="118.5" y2="771.1" stroke="#000" stroke-width="2.2" stroke-linecap="butt"/>
<line x1="169" y1="716.4" x2="169" y2="744.2" stroke="#2a2a2a" stroke-width="1.3" stroke-linecap="butt"/>
<line x1="169" y1="763.4" x2="169" y2="782.2" stroke="#2a2a2a" stroke-width="1.3" stroke-linecap="butt"/>
<rect x="139.4" y="744.2" width="59.4" height="19.2" fill="#df80ad" stroke="#111" stroke-width="1.1"/>
<line x1="139.4" y1="755.3" x2="198.8" y2="755.3" stroke="#000" stroke-width="2.2" stroke-linecap="butt"/>
<g fill="#000" fill-opacity="0.6"><circle cx="80.58" cy="766.05" r="1.3"/><circle cx="100.12" cy="771.75" r="1.3"/><circle cx="84.95" cy="775.81" r="1.3"/><circle cx="97.11" cy="762.93" r="1.3"/><circle cx="99.54" cy="752.33" r="1.3"/><circle cx="79.79" cy="752.61" r="1.3"/><circle cx="99.56" cy="759.49" r="1.3"/><circle cx="103.35" cy="763" r="1.3"/><circle cx="83.13" cy="756.3" r="1.3"/><circle cx="75.21" cy="767.48" r="1.3"/><circle cx="77.74" cy="763.26" r="1.3"/><circle cx="102.76" cy="755.58" r="1.3"/><circle cx="74.77" cy="759.61" r="1.3"/><circle cx="100.94" cy="765.98" r="1.3"/><circle cx="78.87" cy="771.69" r="1.3"/><circle cx="95.84" cy="766.18" r="1.3"/><circle cx="77.33" cy="766.15" r="1.3"/><circle cx="79.39" cy="763.71" r="1.3"/><circle cx="94.3" cy="775.34" r="1.3"/><circle cx="77.12" cy="775.83" r="1.3"/><circle cx="84.35" cy="771.65" r="1.3"/><circle cx="101.14" cy="755.49" r="1.3"/><circle cx="95.27" cy="762.96" r="1.3"/><circle cx="100.08" cy="775.73" r="1.3"/><circle cx="102.91" cy="755.8" r="1.3"/><circle cx="75.45" cy="765.95" r="1.3"/><circle cx="81.3" cy="752.29" r="1.3"/><circle cx="97.47" cy="766.08" r="1.3"/><circle cx="94.49" cy="767.52" r="1.3"/><circle cx="75.6" cy="759.46" r="1.3"/><circle cx="89.14" cy="755.61" r="1.3"/><circle cx="81.22" cy="752.1" r="1.3"/><circle cx="86.98" cy="775.51" r="1.3"/><circle cx="77.54" cy="771.14" r="1.3"/><circle cx="75.08" cy="780.68" r="1.3"/><circle cx="103.23" cy="763.13" r="1.3"/><circle cx="83.68" cy="771.34" r="1.3"/><circle cx="99.98" cy="781.11" r="1.3"/><circle cx="77.99" cy="763.2" r="1.3"/><circle cx="88.63" cy="763.46" r="1.3"/><circle cx="78.44" cy="781.28" r="1.3"/><circle cx="86.93" cy="763.59" r="1.3"/><circle cx="79.69" cy="771.3" r="1.3"/><circle cx="94.38" cy="781.02" r="1.3"/><circle cx="78.79" cy="775.83" r="1.3"/><circle cx="95.91" cy="755.9" r="1.3"/><circle cx="89.02" cy="759.29" r="1.3"/><circle cx="77.76" cy="780.81" r="1.3"/><circle cx="84.75" cy="780.8" r="1.3"/><circle cx="88.89" cy="763.53" r="1.3"/><circle cx="101.14" cy="781.48" r="1.3"/><circle cx="84.63" cy="763.15" r="1.3"/><circle cx="80.74" cy="771.43" r="1.3"/><circle cx="102.56" cy="771.47" r="1.3"/><circle cx="100.11" cy="752.44" r="1.3"/><circle cx="95.71" cy="763.49" r="1.3"/><circle cx="82.42" cy="759.5" r="1.3"/><circle cx="79.64" cy="752.11" r="1.3"/><circle cx="82.17" cy="771.76" r="1.3"/><circle cx="76.5" cy="763.68" r="1.3"/><circle cx="75.75" cy="767.48" r="1.3"/><circle cx="89.25" cy="755.94" r="1.3"/><circle cx="86.34" cy="781.08" r="1.3"/><circle cx="90.64" cy="752.68" r="1.3"/><circle cx="85.02" cy="755.97" r="1.3"/><circle cx="74.81" cy="752.54" r="1.3"/><circle cx="94.46" cy="766.08" r="1.3"/><circle cx="93.44" cy="755.7" r="1.3"/><circle cx="90.28" cy="775.92" r="1.3"/><circle cx="90.42" cy="763.76" r="1.3"/><circle cx="94.52" cy="771.36" r="1.3"/><circle cx="102.99" cy="775.67" r="1.3"/><circle cx="99.85" cy="781.21" r="1.3"/><circle cx="95.32" cy="752.55" r="1.3"/><circle cx="86.08" cy="752.32" r="1.3"/><circle cx="83.73" cy="765.65" r="1.3"/><circle cx="86.66" cy="763.42" r="1.3"/><circle cx="102.72" cy="772.15" r="1.3"/><circle cx="85.73" cy="751.98" r="1.3"/><circle cx="85.68" cy="767.38" r="1.3"/><circle cx="86.39" cy="755.41" r="1.3"/><circle cx="78.65" cy="763.41" r="1.3"/><circle cx="103.45" cy="759.51" r="1.3"/><circle cx="74.65" cy="781.06" r="1.3"/><circle cx="92.13" cy="775.68" r="1.3"/><circle cx="101.36" cy="759.32" r="1.3"/><circle cx="81.89" cy="763.04" r="1.3"/><circle cx="92.22" cy="759.15" r="1.3"/><circle cx="85.43" cy="758.91" r="1.3"/><circle cx="81.48" cy="767.6" r="1.3"/><circle cx="80.25" cy="781.12" r="1.3"/><circle cx="77.87" cy="759.06" r="1.3"/><circle cx="98.95" cy="767.44" r="1.3"/><circle cx="97.24" cy="759.09" r="1.3"/><circle cx="100.85" cy="766.36" r="1.3"/><circle cx="75.94" cy="794.36" r="1.3"/><circle cx="94.63" cy="789.25" r="1.3"/><circle cx="83.91" cy="795.23" r="1.3"/><circle cx="93.24" cy="785.01" r="1.3"/><circle cx="90.42" cy="784.92" r="1.3"/><circle cx="83.65" cy="793.63" r="1.3"/><circle cx="102.68" cy="786.62" r="1.3"/><circle cx="74.53" cy="785.59" r="1.3"/><circle cx="96.14" cy="793.41" r="1.3"/><circle cx="99.25" cy="792.7" r="1.3"/><circle cx="89.29" cy="790.47" r="1.3"/><circle cx="91.68" cy="784.6" r="1.3"/><circle cx="103.35" cy="795.16" r="1.3"/><circle cx="81.3" cy="787.62" r="1.3"/><circle cx="92.76" cy="788.85" r="1.3"/><circle cx="96.06" cy="790.94" r="1.3"/><circle cx="85.49" cy="789.11" r="1.3"/><circle cx="95.15" cy="784.72" r="1.3"/><circle cx="85.91" cy="749.17" r="1.3"/><circle cx="89.76" cy="745.62" r="1.3"/><circle cx="92.27" cy="744.26" r="1.3"/><circle cx="94.14" cy="741.53" r="1.3"/><circle cx="83.84" cy="740.98" r="1.3"/><circle cx="92.74" cy="742.08" r="1.3"/><circle cx="90.25" cy="736.07" r="1.3"/><circle cx="80.97" cy="746.99" r="1.3"/><circle cx="92.26" cy="748.36" r="1.3"/><circle cx="82.18" cy="723.78" r="1.3"/><circle cx="100.85" cy="716.96" r="1.3"/><circle cx="88.23" cy="749.72" r="1.3"/><circle cx="95.43" cy="740.17" r="1.3"/><circle cx="90.14" cy="834.35" r="1.3"/><circle cx="88.82" cy="834.35" r="1.3"/><circle cx="81.42" cy="834.35" r="1.3"/><circle cx="79.12" cy="834.35" r="1.3"/><circle cx="101.89" cy="834.35" r="1.3"/><circle cx="90.33" cy="834.35" r="1.3"/><circle cx="90.19" cy="834.35" r="1.3"/><circle cx="90.3" cy="834.35" r="1.3"/><circle cx="98.59" cy="834.35" r="1.3"/><circle cx="81.92" cy="834.35" r="1.3"/><circle cx="80" cy="834.35" r="1.3"/><circle cx="98.83" cy="834.35" r="1.3"/><circle cx="88.35" cy="834.35" r="1.3"/><circle cx="93.58" cy="834.35" r="1.3"/><circle cx="157.21" cy="741.25" r="1.3"/><circle cx="167.97" cy="714.64" r="1.3"/><circle cx="175.62" cy="756.51" r="1.3"/><circle cx="166.97" cy="718.02" r="1.3"/><circle cx="174.19" cy="775.69" r="1.3"/><circle cx="157.82" cy="773.68" r="1.3"/><circle cx="178.53" cy="731.02" r="1.3"/><circle cx="158.04" cy="762.4" r="1.3"/><circle cx="181.28" cy="755.2" r="1.3"/><circle cx="183.39" cy="750.15" r="1.3"/><circle cx="181.74" cy="756.78" r="1.3"/><circle cx="169.76" cy="719.04" r="1.3"/><circle cx="162.93" cy="751.07" r="1.3"/><circle cx="164.59" cy="752.52" r="1.3"/><circle cx="176.26" cy="760.4" r="1.3"/><circle cx="168.9" cy="762.96" r="1.3"/><circle cx="181.47" cy="769.91" r="1.3"/><circle cx="157.2" cy="777.19" r="1.3"/><circle cx="168.56" cy="752.11" r="1.3"/><circle cx="179.56" cy="761.18" r="1.3"/><circle cx="171.84" cy="716.75" r="1.3"/><circle cx="170.18" cy="745.57" r="1.3"/><circle cx="157.06" cy="772.47" r="1.3"/><circle cx="158.55" cy="733.78" r="1.3"/><circle cx="162.36" cy="762.75" r="1.3"/><circle cx="180.4" cy="760.19" r="1.3"/><circle cx="179.02" cy="751.88" r="1.3"/><circle cx="161.09" cy="757.97" r="1.3"/><circle cx="181.31" cy="725.91" r="1.3"/><circle cx="155.44" cy="758.52" r="1.3"/><circle cx="171.87" cy="720.56" r="1.3"/><circle cx="182.55" cy="736.38" r="1.3"/><circle cx="164.48" cy="757.83" r="1.3"/><circle cx="181.89" cy="762.54" r="1.3"/><circle cx="173.54" cy="726.76" r="1.3"/><circle cx="155.95" cy="749.62" r="1.3"/><circle cx="164.16" cy="737.61" r="1.3"/><circle cx="167.54" cy="769.54" r="1.3"/><circle cx="161.67" cy="759.44" r="1.3"/><circle cx="176.03" cy="727.85" r="1.3"/><circle cx="159.69" cy="756.05" r="1.3"/><circle cx="177.34" cy="759.21" r="1.3"/><circle cx="163.15" cy="745.95" r="1.3"/><circle cx="156.51" cy="746.89" r="1.3"/><circle cx="170.72" cy="762.78" r="1.3"/><circle cx="157.27" cy="748.98" r="1.3"/><circle cx="170.5" cy="737.96" r="1.3"/><circle cx="177.35" cy="776.31" r="1.3"/><circle cx="171.77" cy="765.9" r="1.3"/><circle cx="167.88" cy="779.23" r="1.3"/><circle cx="155.48" cy="732.26" r="1.3"/><circle cx="169.39" cy="768.08" r="1.3"/><circle cx="157.32" cy="749.78" r="1.3"/><circle cx="173.26" cy="767.92" r="1.3"/><circle cx="158.33" cy="758.47" r="1.3"/><circle cx="171.26" cy="739.21" r="1.3"/><circle cx="164.73" cy="718.88" r="1.3"/><circle cx="165.37" cy="758.99" r="1.3"/><circle cx="173.73" cy="763.27" r="1.3"/><circle cx="159.25" cy="761.02" r="1.3"/><circle cx="159.42" cy="761.08" r="1.3"/><circle cx="181.8" cy="732.01" r="1.3"/><circle cx="164.12" cy="750.48" r="1.3"/><circle cx="178.93" cy="774.66" r="1.3"/><circle cx="179.83" cy="738.82" r="1.3"/><circle cx="168.43" cy="722.82" r="1.3"/><circle cx="158.82" cy="780.16" r="1.3"/><circle cx="157.23" cy="751" r="1.3"/><circle cx="179.99" cy="759.23" r="1.3"/><circle cx="157.9" cy="751.09" r="1.3"/><circle cx="168.89" cy="720.87" r="1.3"/><circle cx="170.04" cy="732.02" r="1.3"/><circle cx="157.91" cy="774.47" r="1.3"/><circle cx="168.07" cy="750.6" r="1.3"/><circle cx="159.26" cy="751.56" r="1.3"/><circle cx="170.03" cy="756.79" r="1.3"/><circle cx="169.2" cy="757.47" r="1.3"/><circle cx="165.14" cy="733.05" r="1.3"/><circle cx="160.23" cy="755.7" r="1.3"/><circle cx="166.21" cy="756.15" r="1.3"/><circle cx="160.4" cy="772.28" r="1.3"/><circle cx="158.19" cy="754.63" r="1.3"/><circle cx="161.46" cy="715.94" r="1.3"/><circle cx="179.77" cy="753.16" r="1.3"/><circle cx="169.05" cy="732.16" r="1.3"/><circle cx="180.33" cy="730.34" r="1.3"/><circle cx="154.94" cy="747.63" r="1.3"/><circle cx="181.86" cy="761.43" r="1.3"/><circle cx="168.66" cy="718.89" r="1.3"/><circle cx="177.44" cy="721.1" r="1.3"/><circle cx="171.04" cy="779.06" r="1.3"/><circle cx="174.48" cy="742.73" r="1.3"/><circle cx="161.15" cy="757.88" r="1.3"/><circle cx="176.25" cy="755.93" r="1.3"/><circle cx="158.96" cy="753.45" r="1.3"/><circle cx="162.16" cy="767.84" r="1.3"/><circle cx="155.4" cy="765.61" r="1.3"/><circle cx="165.9" cy="761.25" r="1.3"/><circle cx="169.53" cy="751.61" r="1.3"/><circle cx="162.97" cy="753.46" r="1.3"/><circle cx="180.32" cy="725.02" r="1.3"/><circle cx="156.95" cy="719.12" r="1.3"/><circle cx="171.28" cy="743.48" r="1.3"/><circle cx="161.28" cy="762.84" r="1.3"/><circle cx="171.76" cy="758.02" r="1.3"/><circle cx="177.24" cy="770.33" r="1.3"/><circle cx="154.5" cy="834.2" r="1.3"/><circle cx="165.5" cy="834.2" r="1.3"/><circle cx="174" cy="834.2" r="1.3"/><circle cx="178" cy="834.2" r="1.3"/><circle cx="163" cy="683.65" r="1.3"/></g>
<line x1="40.8" y1="677" x2="40.8" y2="842.75" stroke="#262626" stroke-width="1.1" stroke-linecap="butt"/>
<line x1="40.25" y1="842.2" x2="215.2" y2="842.2" stroke="#262626" stroke-width="1.1" stroke-linecap="butt"/>
<text x="354.1" y="661.9" font-size="15.7" fill="#1c1c1c" text-anchor="middle" >Stearoyl ethanolamide</text>
<text transform="translate(243.4,756.8) rotate(-90)" font-size="15.4" fill="#1c1c1c" text-anchor="middle">Abundance</text>
<line x1="272.4" y1="688.65" x2="275.4" y2="688.65" stroke="#555" stroke-width="1" stroke-linecap="butt"/>
<text x="271.4" y="692.55" font-size="12.8" fill="#3a3131" text-anchor="end" >2.5</text>
<line x1="272.4" y1="738.4" x2="275.4" y2="738.4" stroke="#555" stroke-width="1" stroke-linecap="butt"/>
<text x="271.4" y="742.3" font-size="12.8" fill="#3a3131" text-anchor="end" >0.0</text>
<line x1="272.4" y1="788.15" x2="275.4" y2="788.15" stroke="#555" stroke-width="1" stroke-linecap="butt"/>
<text x="271.4" y="792.05" font-size="12.8" fill="#3a3131" text-anchor="end" >−2.5</text>
<line x1="272.4" y1="837.9" x2="275.4" y2="837.9" stroke="#555" stroke-width="1" stroke-linecap="butt"/>
<text x="271.4" y="841.8" font-size="12.8" fill="#3a3131" text-anchor="end" >−5.0</text>
<line x1="320.9" y1="842" x2="320.9" y2="845" stroke="#555" stroke-width="1" stroke-linecap="butt"/>
<line x1="396.9" y1="842" x2="396.9" y2="845" stroke="#555" stroke-width="1" stroke-linecap="butt"/>
<text x="318.3" y="861.2" font-size="15.5" fill="#3a3131" text-anchor="middle" >Control</text>
<text x="403.6" y="861.2" font-size="15.5" fill="#3a3131" text-anchor="middle" >DR + DKD</text>
<line x1="320.9" y1="700.6" x2="320.9" y2="729.3" stroke="#2a2a2a" stroke-width="1.3" stroke-linecap="butt"/>
<line x1="320.9" y1="756.6" x2="320.9" y2="784.7" stroke="#2a2a2a" stroke-width="1.3" stroke-linecap="butt"/>
<rect x="291.8" y="729.3" width="57.8" height="27.3" fill="#b1dec7" stroke="#111" stroke-width="1.1"/>
<line x1="291.8" y1="746.1" x2="349.6" y2="746.1" stroke="#000" stroke-width="2.2" stroke-linecap="butt"/>
<line x1="396.9" y1="690.1" x2="396.9" y2="719.2" stroke="#2a2a2a" stroke-width="1.3" stroke-linecap="butt"/>
<line x1="396.9" y1="741.6" x2="396.9" y2="773.1" stroke="#2a2a2a" stroke-width="1.3" stroke-linecap="butt"/>
<rect x="368.2" y="719.2" width="57.5" height="22.4" fill="#df80ad" stroke="#111" stroke-width="1.1"/>
<line x1="368.2" y1="729.7" x2="425.7" y2="729.7" stroke="#000" stroke-width="2.2" stroke-linecap="butt"/>
<g fill="#000" fill-opacity="0.6"><circle cx="325.22" cy="745.12" r="1.3"/><circle cx="331.88" cy="765.94" r="1.3"/><circle cx="310.21" cy="702.84" r="1.3"/><circle cx="326.82" cy="734.6" r="1.3"/><circle cx="326.81" cy="712.82" r="1.3"/><circle cx="324.16" cy="716.14" r="1.3"/><circle cx="314.38" cy="701.36" r="1.3"/><circle cx="308.35" cy="714.78" r="1.3"/><circle cx="323.9" cy="755.78" r="1.3"/><circle cx="330.3" cy="762.73" r="1.3"/><circle cx="314.32" cy="743.63" r="1.3"/><circle cx="312.58" cy="755.23" r="1.3"/><circle cx="312.89" cy="776" r="1.3"/><circle cx="309.12" cy="746.41" r="1.3"/><circle cx="326" cy="724.52" r="1.3"/><circle cx="334.67" cy="751.46" r="1.3"/><circle cx="329.66" cy="727.3" r="1.3"/><circle cx="316.83" cy="720.69" r="1.3"/><circle cx="326.68" cy="765.31" r="1.3"/><circle cx="308.49" cy="724.4" r="1.3"/><circle cx="330.72" cy="763.11" r="1.3"/><circle cx="315.83" cy="755" r="1.3"/><circle cx="306.5" cy="721.6" r="1.3"/><circle cx="324.65" cy="743.91" r="1.3"/><circle cx="310.42" cy="727.98" r="1.3"/><circle cx="314.38" cy="723.39" r="1.3"/><circle cx="308.11" cy="724.78" r="1.3"/><circle cx="319.33" cy="738.88" r="1.3"/><circle cx="322.49" cy="724.35" r="1.3"/><circle cx="329.81" cy="711.57" r="1.3"/><circle cx="307.55" cy="718" r="1.3"/><circle cx="330.39" cy="705.73" r="1.3"/><circle cx="309.61" cy="724.42" r="1.3"/><circle cx="312.91" cy="747.87" r="1.3"/><circle cx="324.65" cy="776.65" r="1.3"/><circle cx="316.26" cy="754.21" r="1.3"/><circle cx="316" cy="747.13" r="1.3"/><circle cx="322.89" cy="734.29" r="1.3"/><circle cx="312.72" cy="748.44" r="1.3"/><circle cx="329.41" cy="721.86" r="1.3"/><circle cx="312.46" cy="725.35" r="1.3"/><circle cx="330.74" cy="755.79" r="1.3"/><circle cx="329.85" cy="732.18" r="1.3"/><circle cx="321.98" cy="750.43" r="1.3"/><circle cx="307.28" cy="724.56" r="1.3"/><circle cx="328.96" cy="768.67" r="1.3"/><circle cx="307.22" cy="779.45" r="1.3"/><circle cx="321.04" cy="714.97" r="1.3"/><circle cx="318.69" cy="738.51" r="1.3"/><circle cx="308.23" cy="754.45" r="1.3"/><circle cx="324.67" cy="747.8" r="1.3"/><circle cx="327.41" cy="741.28" r="1.3"/><circle cx="323.36" cy="774.51" r="1.3"/><circle cx="318" cy="738.77" r="1.3"/><circle cx="321.25" cy="732.67" r="1.3"/><circle cx="323.47" cy="763.93" r="1.3"/><circle cx="312.96" cy="760.67" r="1.3"/><circle cx="331.56" cy="774.49" r="1.3"/><circle cx="335.28" cy="713.4" r="1.3"/><circle cx="329.72" cy="759.16" r="1.3"/><circle cx="334.28" cy="731.22" r="1.3"/><circle cx="315.95" cy="751.44" r="1.3"/><circle cx="335" cy="717.34" r="1.3"/><circle cx="308.47" cy="708.21" r="1.3"/><circle cx="320.26" cy="707.32" r="1.3"/><circle cx="310.28" cy="746.16" r="1.3"/><circle cx="319.57" cy="757.92" r="1.3"/><circle cx="326.2" cy="748.17" r="1.3"/><circle cx="326.94" cy="752.99" r="1.3"/><circle cx="319.58" cy="767.08" r="1.3"/><circle cx="316.31" cy="717.53" r="1.3"/><circle cx="311.91" cy="746.91" r="1.3"/><circle cx="318.08" cy="721.44" r="1.3"/><circle cx="314.59" cy="765.34" r="1.3"/><circle cx="312.03" cy="746.61" r="1.3"/><circle cx="327.74" cy="749.73" r="1.3"/><circle cx="321.37" cy="739.88" r="1.3"/><circle cx="319.12" cy="734.85" r="1.3"/><circle cx="312.13" cy="717.11" r="1.3"/><circle cx="326.81" cy="746.41" r="1.3"/><circle cx="312.11" cy="760.4" r="1.3"/><circle cx="314.1" cy="736.84" r="1.3"/><circle cx="322.65" cy="748.79" r="1.3"/><circle cx="326.74" cy="722.99" r="1.3"/><circle cx="334.62" cy="745.57" r="1.3"/><circle cx="328.08" cy="755.26" r="1.3"/><circle cx="333.9" cy="726.91" r="1.3"/><circle cx="333.08" cy="766.22" r="1.3"/><circle cx="327.35" cy="745.38" r="1.3"/><circle cx="327.27" cy="748.83" r="1.3"/><circle cx="308.22" cy="741.47" r="1.3"/><circle cx="312.36" cy="711.34" r="1.3"/><circle cx="306.78" cy="739.13" r="1.3"/><circle cx="331.44" cy="721" r="1.3"/><circle cx="327.34" cy="721.7" r="1.3"/><circle cx="324.68" cy="746.55" r="1.3"/><circle cx="314.05" cy="734.61" r="1.3"/><circle cx="316.71" cy="755" r="1.3"/><circle cx="311.15" cy="732.36" r="1.3"/><circle cx="324.73" cy="712.97" r="1.3"/><circle cx="335.15" cy="767.99" r="1.3"/><circle cx="315.27" cy="707.32" r="1.3"/><circle cx="307.68" cy="743.31" r="1.3"/><circle cx="311.48" cy="756.14" r="1.3"/><circle cx="316.7" cy="752.67" r="1.3"/><circle cx="332.47" cy="728.57" r="1.3"/><circle cx="329.73" cy="773.43" r="1.3"/><circle cx="319.6" cy="708.47" r="1.3"/><circle cx="309.36" cy="752.09" r="1.3"/><circle cx="309.49" cy="774.82" r="1.3"/><circle cx="310.86" cy="752.64" r="1.3"/><circle cx="328.95" cy="710.62" r="1.3"/><circle cx="320.07" cy="758.73" r="1.3"/><circle cx="335.13" cy="747.88" r="1.3"/><circle cx="332.84" cy="733.15" r="1.3"/><circle cx="329.45" cy="755.1" r="1.3"/><circle cx="320.21" cy="716.37" r="1.3"/><circle cx="330.24" cy="734.95" r="1.3"/><circle cx="310.12" cy="710.87" r="1.3"/><circle cx="309.56" cy="747.03" r="1.3"/><circle cx="322.74" cy="741.34" r="1.3"/><circle cx="321.13" cy="741.82" r="1.3"/><circle cx="312.47" cy="702.85" r="1.3"/><circle cx="313.71" cy="718.9" r="1.3"/><circle cx="307.02" cy="746.79" r="1.3"/><circle cx="332.76" cy="754.14" r="1.3"/><circle cx="327" cy="767.18" r="1.3"/><circle cx="333.81" cy="721.74" r="1.3"/><circle cx="334.84" cy="748.19" r="1.3"/><circle cx="319.07" cy="773.49" r="1.3"/><circle cx="327.64" cy="729.99" r="1.3"/><circle cx="317.54" cy="734.59" r="1.3"/><circle cx="329.94" cy="714.3" r="1.3"/><circle cx="330.8" cy="723.33" r="1.3"/><circle cx="310.28" cy="752.57" r="1.3"/><circle cx="306.77" cy="713.04" r="1.3"/><circle cx="312.61" cy="759.57" r="1.3"/><circle cx="323.38" cy="737.45" r="1.3"/><circle cx="317.39" cy="731.09" r="1.3"/><circle cx="306.66" cy="772.62" r="1.3"/><circle cx="330.48" cy="770.63" r="1.3"/><circle cx="329.2" cy="731.92" r="1.3"/><circle cx="319.85" cy="736.5" r="1.3"/><circle cx="307.65" cy="750.66" r="1.3"/><circle cx="332.18" cy="747.8" r="1.3"/><circle cx="321.89" cy="725.65" r="1.3"/><circle cx="308.46" cy="764.2" r="1.3"/><circle cx="315.78" cy="717.18" r="1.3"/><circle cx="324.51" cy="727.08" r="1.3"/><circle cx="332.07" cy="732.44" r="1.3"/><circle cx="407.2" cy="733.95" r="1.3"/><circle cx="405.68" cy="765.03" r="1.3"/><circle cx="401.85" cy="703.56" r="1.3"/><circle cx="390.45" cy="753.47" r="1.3"/><circle cx="382.68" cy="766.66" r="1.3"/><circle cx="387.91" cy="734.59" r="1.3"/><circle cx="408.64" cy="721.77" r="1.3"/><circle cx="386.98" cy="740.78" r="1.3"/><circle cx="401.52" cy="729.04" r="1.3"/><circle cx="399.42" cy="736.81" r="1.3"/><circle cx="401.58" cy="721.69" r="1.3"/><circle cx="387.64" cy="751.69" r="1.3"/><circle cx="386.57" cy="724.39" r="1.3"/><circle cx="385.22" cy="744.13" r="1.3"/><circle cx="410.9" cy="728.94" r="1.3"/><circle cx="393.51" cy="741.95" r="1.3"/><circle cx="401.31" cy="759.83" r="1.3"/><circle cx="398.92" cy="714.5" r="1.3"/><circle cx="388.87" cy="721.38" r="1.3"/><circle cx="384.28" cy="771" r="1.3"/><circle cx="382.83" cy="714.01" r="1.3"/><circle cx="407.12" cy="773.12" r="1.3"/><circle cx="386.17" cy="743.52" r="1.3"/><circle cx="410.33" cy="751.02" r="1.3"/><circle cx="392.95" cy="710.1" r="1.3"/><circle cx="403.36" cy="700.21" r="1.3"/><circle cx="386.41" cy="774.8" r="1.3"/><circle cx="405.25" cy="695.19" r="1.3"/><circle cx="389.7" cy="711.82" r="1.3"/><circle cx="393.02" cy="747.04" r="1.3"/><circle cx="397.57" cy="755.94" r="1.3"/><circle cx="385.63" cy="747.62" r="1.3"/><circle cx="389.6" cy="716.62" r="1.3"/><circle cx="405.48" cy="745.77" r="1.3"/><circle cx="390.67" cy="720.49" r="1.3"/><circle cx="393.44" cy="722.74" r="1.3"/><circle cx="404.58" cy="720.73" r="1.3"/><circle cx="388.9" cy="772.85" r="1.3"/><circle cx="388.02" cy="726.4" r="1.3"/><circle cx="388.75" cy="741.49" r="1.3"/><circle cx="393.54" cy="729.38" r="1.3"/><circle cx="393" cy="714.21" r="1.3"/><circle cx="401" cy="740.13" r="1.3"/><circle cx="396.08" cy="727.34" r="1.3"/><circle cx="407.62" cy="740.27" r="1.3"/><circle cx="383.87" cy="707.81" r="1.3"/><circle cx="401.65" cy="740.46" r="1.3"/><circle cx="406.66" cy="720.17" r="1.3"/><circle cx="389.21" cy="695.11" r="1.3"/><circle cx="383.25" cy="737.97" r="1.3"/><circle cx="395.11" cy="696.68" r="1.3"/><circle cx="385.76" cy="718.74" r="1.3"/><circle cx="395.74" cy="691.16" r="1.3"/><circle cx="403.03" cy="770.13" r="1.3"/><circle cx="385.12" cy="722.97" r="1.3"/><circle cx="385.82" cy="724.57" r="1.3"/><circle cx="396.31" cy="734.29" r="1.3"/><circle cx="387.44" cy="719.43" r="1.3"/><circle cx="389.09" cy="720.77" r="1.3"/><circle cx="395.17" cy="714.81" r="1.3"/><circle cx="385.83" cy="729.3" r="1.3"/><circle cx="384.37" cy="720.17" r="1.3"/><circle cx="392.87" cy="731.1" r="1.3"/><circle cx="396.01" cy="743.18" r="1.3"/><circle cx="409.56" cy="733.15" r="1.3"/><circle cx="398.49" cy="738" r="1.3"/><circle cx="384.47" cy="737.71" r="1.3"/><circle cx="388.85" cy="758.16" r="1.3"/><circle cx="403.98" cy="710.48" r="1.3"/><circle cx="398.72" cy="713.06" r="1.3"/><circle cx="407.64" cy="718.37" r="1.3"/><circle cx="410.31" cy="700.54" r="1.3"/><circle cx="407.28" cy="759.16" r="1.3"/><circle cx="385.59" cy="765.5" r="1.3"/><circle cx="409.77" cy="716.72" r="1.3"/><circle cx="397.62" cy="732.39" r="1.3"/><circle cx="389.35" cy="716.02" r="1.3"/><circle cx="387.35" cy="707.46" r="1.3"/><circle cx="407.48" cy="746.51" r="1.3"/><circle cx="388.56" cy="734.1" r="1.3"/><circle cx="384.81" cy="735.17" r="1.3"/><circle cx="390.09" cy="697.11" r="1.3"/><circle cx="409.2" cy="722.4" r="1.3"/><circle cx="395.77" cy="719.19" r="1.3"/><circle cx="403.61" cy="730.67" r="1.3"/><circle cx="384.56" cy="718.86" r="1.3"/><circle cx="395.54" cy="766.19" r="1.3"/><circle cx="391.62" cy="730.76" r="1.3"/><circle cx="388.35" cy="764.42" r="1.3"/><circle cx="401.63" cy="718.61" r="1.3"/><circle cx="392.88" cy="758.32" r="1.3"/><circle cx="385.87" cy="721.95" r="1.3"/><circle cx="410.94" cy="721.25" r="1.3"/><circle cx="396.37" cy="764.53" r="1.3"/><circle cx="387.62" cy="750.44" r="1.3"/><circle cx="382.72" cy="764.44" r="1.3"/><circle cx="401.34" cy="710.22" r="1.3"/><circle cx="397.33" cy="722.33" r="1.3"/><circle cx="383.11" cy="721.9" r="1.3"/><circle cx="396.04" cy="740.82" r="1.3"/><circle cx="403.87" cy="775.04" r="1.3"/><circle cx="397.98" cy="739.89" r="1.3"/><circle cx="389.19" cy="756.52" r="1.3"/><circle cx="396.87" cy="711.29" r="1.3"/><circle cx="399.94" cy="732.4" r="1.3"/><circle cx="401.28" cy="770.72" r="1.3"/><circle cx="386.61" cy="736.7" r="1.3"/><circle cx="405.71" cy="724.69" r="1.3"/><circle cx="409.82" cy="728.59" r="1.3"/><circle cx="403.87" cy="702.46" r="1.3"/><circle cx="407.26" cy="692.36" r="1.3"/><circle cx="393.06" cy="699.13" r="1.3"/><circle cx="391" cy="834.4" r="1.3"/><circle cx="405" cy="684.1" r="1.3"/></g>
<line x1="275.4" y1="676" x2="275.4" y2="842.55" stroke="#262626" stroke-width="1.1" stroke-linecap="butt"/>
<line x1="274.85" y1="842" x2="442.7" y2="842" stroke="#262626" stroke-width="1.1" stroke-linecap="butt"/>
</svg>
</body></html>
